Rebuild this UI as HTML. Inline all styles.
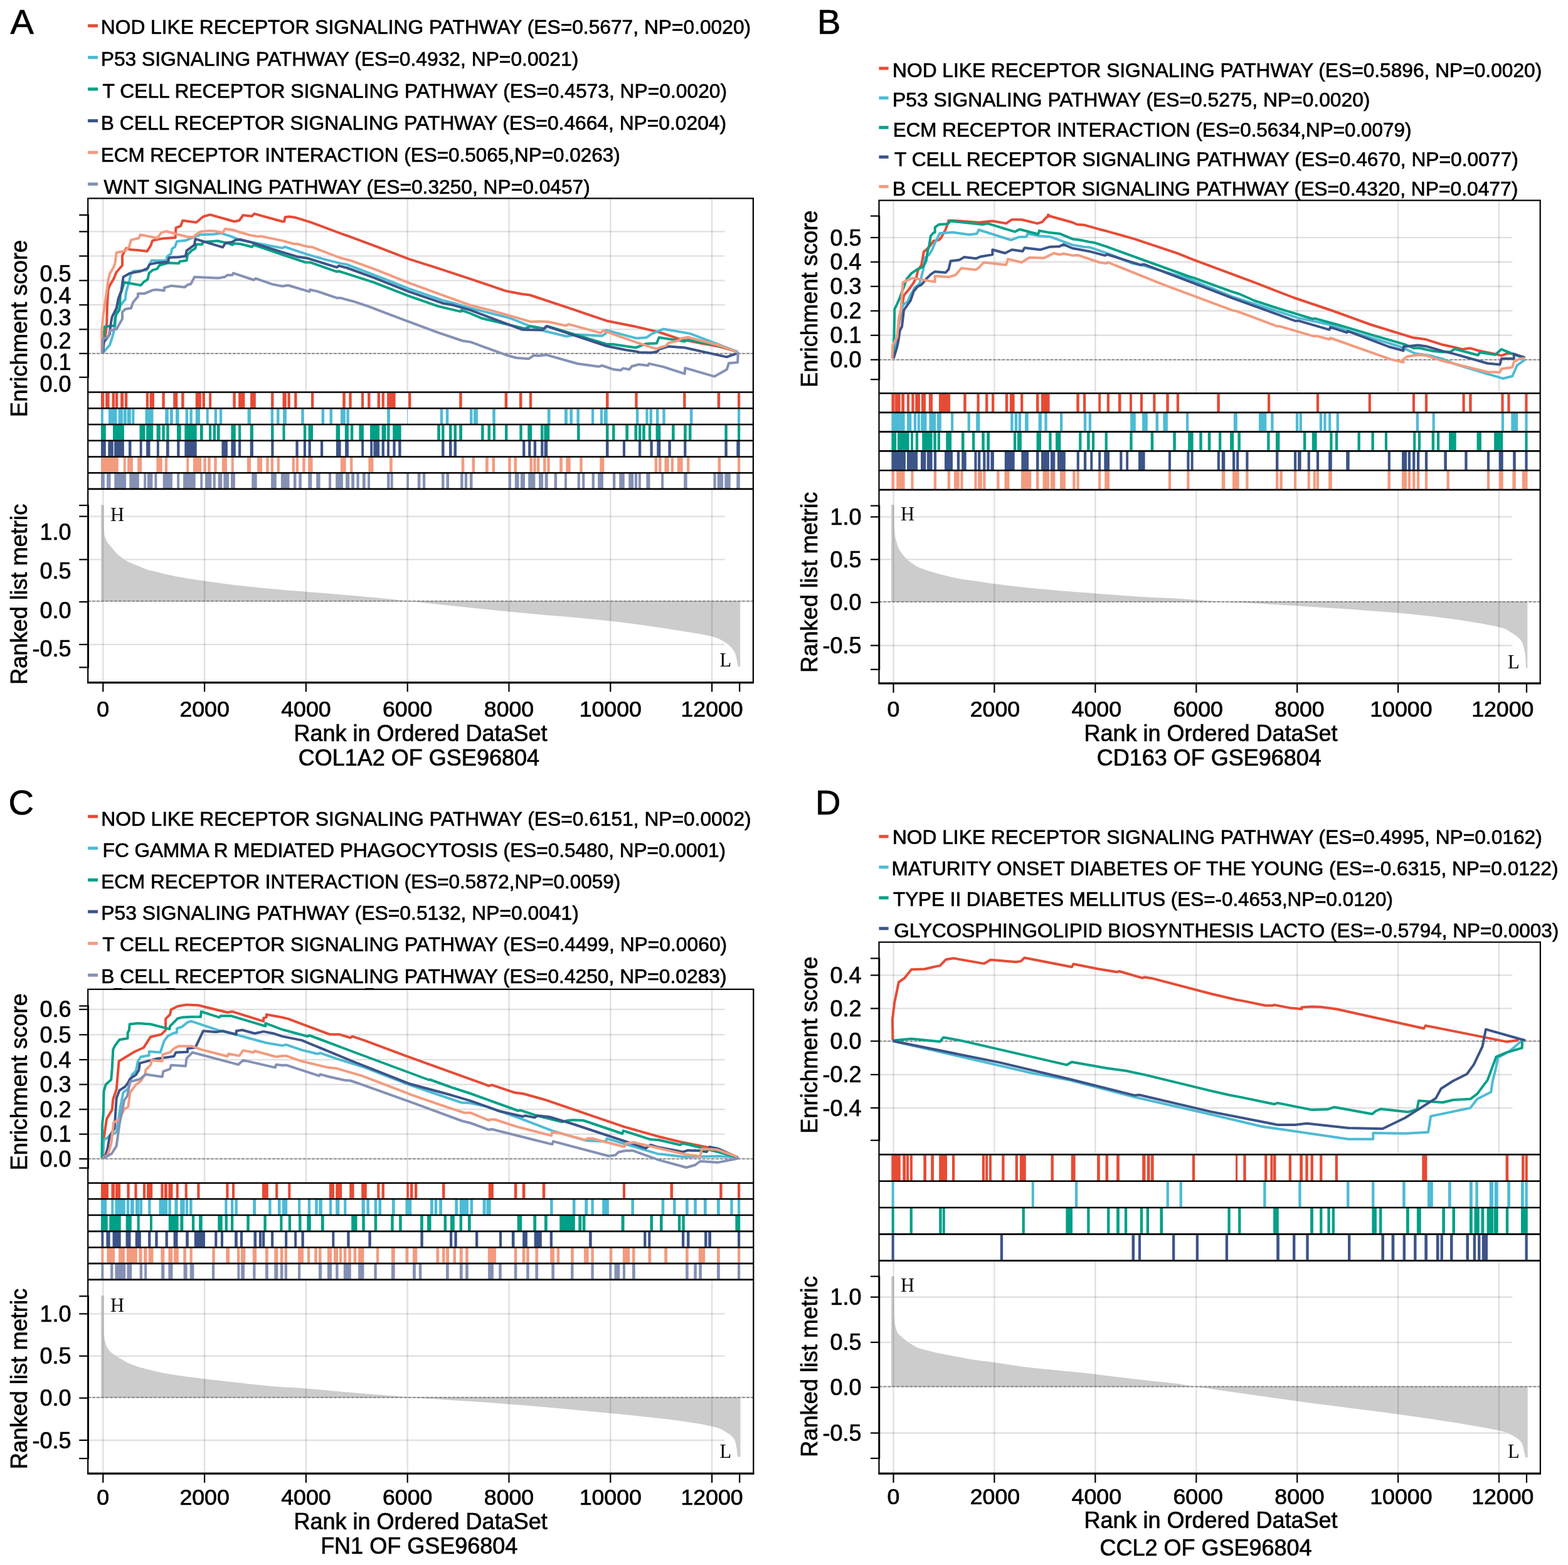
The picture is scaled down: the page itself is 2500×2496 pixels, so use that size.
<!DOCTYPE html>
<html><head><meta charset="utf-8"><title>GSEA</title>
<style>html,body{margin:0;padding:0;background:#fff;}svg{display:block;}</style>
</head><body>
<svg xmlns="http://www.w3.org/2000/svg" width="2500" height="2496" viewBox="0 0 2500 2496">
<rect width="2500" height="2496" fill="#fff"/>
<text x="16.6" y="53.8" font-size="56" text-anchor="start" font-family="'Liberation Sans', Arial, Helvetica, sans-serif" stroke="#000" stroke-width="0.7" >A</text>
<line x1="140" y1="41.1" x2="156" y2="41.1" stroke="#E64B35" stroke-width="5" />
<text x="0" y="0" font-size="31.6" font-family="'Liberation Sans', Arial, Helvetica, sans-serif" stroke="#000" stroke-width="0.7" transform="translate(160.79,54.00) scale(1.0047,1)">NOD LIKE RECEPTOR SIGNALING PATHWAY (ES=0.5677, NP=0.0020)</text>
<line x1="140" y1="91.6" x2="156" y2="91.6" stroke="#4DBBD5" stroke-width="5" />
<text x="0" y="0" font-size="31.6" font-family="'Liberation Sans', Arial, Helvetica, sans-serif" stroke="#000" stroke-width="0.7" transform="translate(160.69,105.00) scale(1.0065,1)">P53 SIGNALING PATHWAY (ES=0.4932, NP=0.0021)</text>
<line x1="140" y1="142.1" x2="156" y2="142.1" stroke="#00A087" stroke-width="5" />
<text x="0" y="0" font-size="31.6" font-family="'Liberation Sans', Arial, Helvetica, sans-serif" stroke="#000" stroke-width="0.7" transform="translate(163.59,156.00) scale(1.0057,1)">T CELL RECEPTOR SIGNALING PATHWAY (ES=0.4573, NP=0.0020)</text>
<line x1="140" y1="192.6" x2="156" y2="192.6" stroke="#3C5488" stroke-width="5" />
<text x="0" y="0" font-size="31.6" font-family="'Liberation Sans', Arial, Helvetica, sans-serif" stroke="#000" stroke-width="0.7" transform="translate(160.79,207.00) scale(1.0055,1)">B CELL RECEPTOR SIGNALING PATHWAY (ES=0.4664, NP=0.0204)</text>
<line x1="140" y1="243.1" x2="156" y2="243.1" stroke="#F39B7F" stroke-width="5" />
<text x="0" y="0" font-size="31.6" font-family="'Liberation Sans', Arial, Helvetica, sans-serif" stroke="#000" stroke-width="0.7" transform="translate(160.71,258.00) scale(0.9961,1)">ECM RECEPTOR INTERACTION (ES=0.5065,NP=0.0263)</text>
<line x1="140" y1="293.6" x2="156" y2="293.6" stroke="#8491B4" stroke-width="5" />
<text x="0" y="0" font-size="31.6" font-family="'Liberation Sans', Arial, Helvetica, sans-serif" stroke="#000" stroke-width="0.7" transform="translate(165.59,309.00) scale(1.0044,1)">WNT SIGNALING PATHWAY (ES=0.3250, NP=0.0457)</text>
<line x1="140.2" y1="369.4" x2="1155.6" y2="369.4" stroke="#000" stroke-width="2.4" stroke-opacity="0.12"/>
<line x1="140.2" y1="408.4" x2="1155.6" y2="408.4" stroke="#000" stroke-width="2.4" stroke-opacity="0.12"/>
<line x1="140.2" y1="447.4" x2="1155.6" y2="447.4" stroke="#000" stroke-width="2.4" stroke-opacity="0.12"/>
<line x1="140.2" y1="486.3" x2="1155.6" y2="486.3" stroke="#000" stroke-width="2.4" stroke-opacity="0.12"/>
<line x1="140.2" y1="525.3" x2="1155.6" y2="525.3" stroke="#000" stroke-width="2.4" stroke-opacity="0.12"/>
<line x1="140.2" y1="823.6" x2="1155.6" y2="823.6" stroke="#000" stroke-width="2.4" stroke-opacity="0.12"/>
<line x1="140.2" y1="892.4" x2="1155.6" y2="892.4" stroke="#000" stroke-width="2.4" stroke-opacity="0.12"/>
<line x1="140.2" y1="1027.9" x2="1155.6" y2="1027.9" stroke="#000" stroke-width="2.4" stroke-opacity="0.12"/>
<path d="M161.0,958.8 L161.0,805.5 L161.0,805.5 L165.6,805.5 L165.8,838.0 L165.9,839.6 L165.9,841.9 L166.0,844.6 L166.1,847.4 L166.2,850.0 L166.4,852.0 L166.6,853.5 L166.8,854.7 L167.0,855.6 L167.3,856.5 L167.6,857.3 L168.0,858.3 L168.4,859.3 L168.8,860.3 L169.2,861.3 L169.7,862.3 L170.3,863.4 L171.0,864.5 L171.8,865.7 L172.7,866.9 L173.8,868.1 L174.9,869.4 L176.0,870.8 L177.3,872.3 L178.7,874.0 L180.1,875.8 L181.7,877.7 L183.3,879.6 L184.9,881.5 L186.6,883.2 L188.4,884.8 L190.2,886.4 L192.1,887.8 L194.0,889.2 L195.8,890.5 L197.5,891.7 L198.9,892.7 L200.0,893.5 L201.0,894.1 L202.1,894.8 L203.4,895.5 L205.2,896.4 L207.6,897.5 L210.4,898.7 L213.5,899.9 L216.7,901.2 L219.7,902.3 L222.3,903.4 L224.4,904.3 L226.2,905.1 L227.9,905.9 L229.5,906.6 L231.2,907.3 L233.2,908.0 L235.5,908.7 L238.0,909.4 L240.7,910.0 L243.4,910.6 L246.1,911.3 L248.7,911.9 L251.1,912.5 L253.3,913.1 L255.5,913.7 L257.9,914.3 L260.7,915.0 L264.2,915.8 L268.5,916.7 L273.4,917.8 L278.8,918.9 L284.4,920.0 L289.9,921.0 L295.3,922.0 L300.3,922.8 L305.1,923.6 L309.8,924.3 L314.8,925.0 L320.2,925.8 L326.3,926.6 L332.9,927.5 L339.9,928.6 L347.3,929.6 L355.3,930.7 L363.8,931.8 L372.9,932.9 L383.1,934.1 L394.6,935.3 L406.5,936.5 L418.5,937.7 L429.8,938.8 L440.0,939.8 L448.4,940.6 L455.4,941.2 L461.8,941.7 L468.4,942.2 L475.9,942.7 L485.3,943.5 L497.0,944.5 L510.4,945.6 L524.9,946.8 L539.6,948.0 L553.6,949.2 L566.2,950.3 L577.7,951.3 L588.7,952.3 L599.1,953.3 L608.8,954.2 L617.5,955.1 L625.0,955.8 L629.5,956.3 L630.6,956.4 L630.7,956.5 L632.3,956.7 L637.7,957.3 L649.3,958.6 L668.3,960.6 L693.0,963.3 L721.5,966.3 L752.0,969.5 L782.4,972.6 L811.0,975.5 L838.7,978.1 L867.2,980.7 L895.8,983.1 L923.5,985.6 L949.7,988.1 L973.4,990.5 L994.7,993.0 L1014.3,995.5 L1032.3,998.0 L1048.8,1000.5 L1064.0,1002.8 L1078.0,1005.0 L1090.7,1006.9 L1101.9,1008.7 L1111.8,1010.4 L1120.6,1011.9 L1128.4,1013.6 L1135.5,1015.3 L1141.5,1017.1 L1146.3,1018.9 L1150.0,1020.7 L1153.2,1022.6 L1156.1,1024.5 L1159.0,1026.6 L1161.8,1028.8 L1164.3,1030.9 L1166.5,1033.2 L1168.4,1035.7 L1170.2,1038.3 L1171.7,1041.2 L1173.0,1044.7 L1174.1,1048.8 L1174.9,1053.1 L1175.6,1057.2 L1176.2,1060.7 L1176.6,1063.2 L1180.2,1063.2 L1180.2,958.8 Z" fill="#CCCCCC"/>
<line x1="164.3" y1="317.4" x2="164.3" y2="624.5" stroke="#000" stroke-width="2.4" stroke-opacity="0.12"/>
<line x1="164.3" y1="780.9" x2="164.3" y2="1087.3" stroke="#000" stroke-width="2.4" stroke-opacity="0.12"/>
<line x1="326.1" y1="317.4" x2="326.1" y2="624.5" stroke="#000" stroke-width="2.4" stroke-opacity="0.12"/>
<line x1="326.1" y1="780.9" x2="326.1" y2="1087.3" stroke="#000" stroke-width="2.4" stroke-opacity="0.12"/>
<line x1="487.9" y1="317.4" x2="487.9" y2="624.5" stroke="#000" stroke-width="2.4" stroke-opacity="0.12"/>
<line x1="487.9" y1="780.9" x2="487.9" y2="1087.3" stroke="#000" stroke-width="2.4" stroke-opacity="0.12"/>
<line x1="649.7" y1="317.4" x2="649.7" y2="624.5" stroke="#000" stroke-width="2.4" stroke-opacity="0.12"/>
<line x1="649.7" y1="780.9" x2="649.7" y2="1087.3" stroke="#000" stroke-width="2.4" stroke-opacity="0.12"/>
<line x1="811.5" y1="317.4" x2="811.5" y2="624.5" stroke="#000" stroke-width="2.4" stroke-opacity="0.12"/>
<line x1="811.5" y1="780.9" x2="811.5" y2="1087.3" stroke="#000" stroke-width="2.4" stroke-opacity="0.12"/>
<line x1="973.3" y1="317.4" x2="973.3" y2="624.5" stroke="#000" stroke-width="2.4" stroke-opacity="0.12"/>
<line x1="973.3" y1="780.9" x2="973.3" y2="1087.3" stroke="#000" stroke-width="2.4" stroke-opacity="0.12"/>
<line x1="1135.1" y1="317.4" x2="1135.1" y2="624.5" stroke="#000" stroke-width="2.4" stroke-opacity="0.12"/>
<line x1="1135.1" y1="780.9" x2="1135.1" y2="1087.3" stroke="#000" stroke-width="2.4" stroke-opacity="0.12"/>
<line x1="140.2" y1="563.8" x2="1200.9" y2="563.8" stroke="#000" stroke-width="2.4" stroke-opacity="0.12"/>
<line x1="140.2" y1="563.8" x2="1200.9" y2="563.8" stroke="#777" stroke-width="1.4" stroke-dasharray="4.5,2.5"/>
<line x1="140.2" y1="958.8" x2="1200.9" y2="958.8" stroke="#000" stroke-width="2.4" stroke-opacity="0.12"/>
<line x1="140.2" y1="958.8" x2="1200.9" y2="958.8" stroke="#777" stroke-width="1.4" stroke-dasharray="4.5,2.5"/>
<path d="M164,562.9 L165.5,547.4 L168.6,531.9 L170.2,516.3 L171,485.3 L172.5,462 L174.8,455.8 L181.1,444.9 L185.7,434 L195,423.2 L195,407.6 L201.2,396 L209,398.3 L219.9,399.1 L234.6,400.7 L240.1,392.1 L243.2,383.6 L258.7,380.5 L279.7,378.9 L280.4,363.4 L288.2,360.3 L291.3,351.7 L313,354.8 L323.9,345.5 L334.8,342.4 L373.6,353.3 L381.4,351.7 L387.6,343.2 L401.6,344.8 L405.4,340.9 L450,353.3 L453.1,353.3 L454.7,346.3 L460.9,345.5 L471.7,347.1 L496.6,354.8 L546.3,373.5 L555.6,376.6 L605.3,395.2 L651.9,413.1 L698.4,427.8 L750,444.9 L807.5,464.3 L832.3,469 L844.7,470.5 L905.3,490.7 L967.4,511.7 L1014,521 L1050,529.5 L1084.2,540.8 L1121.5,548.3 L1146.3,552.6 L1176.1,561.3" fill="none" stroke="#E64B35" stroke-width="4.0" stroke-linejoin="round"/>
<path d="M164,562.9 L174.8,550.5 L178,541.2 L181.1,530.3 L183.4,519.4 L184.9,500.8 L193.5,485.3 L199.7,477.5 L201.2,465.1 L205.9,449.6 L208.2,438.7 L212.1,432.5 L233.9,430.9 L237,424.7 L241.6,415.4 L264.9,415.4 L266.5,409.2 L272.7,404.5 L274.2,396.8 L278.9,393.7 L282,385.1 L296,383.6 L305.3,379.7 L319.3,374.3 L342.5,373.5 L351.9,371.9 L367.4,376.6 L382.9,382.8 L450,395.6 L453.9,393.7 L488.8,405.3 L518.3,413.9 L543.2,420.1 L552.5,421.6 L605.3,441.8 L651.9,460.4 L706.2,479.1 L721.7,483 L750,491.5 L812.1,507 L843.2,519.4 L871.1,528.8 L903.7,536.5 L920.8,533.4 L959.6,535.7 L965.8,531.9 L965.8,526.4 L1015,539.6 L1030.8,538.3 L1039.5,532.1 L1058.1,524.7 L1100.4,532.1 L1146.3,549.5 L1176.1,561.3" fill="none" stroke="#4DBBD5" stroke-width="4.0" stroke-linejoin="round"/>
<path d="M164,562.9 L165.5,531.9 L167.1,521 L182.6,519.4 L183.4,508.6 L185.7,500.8 L190.4,494.6 L191.9,469.8 L195,460.4 L198.1,450.3 L224.5,455 L229.2,449.6 L235.4,445.7 L237.7,435.6 L243.2,430.9 L250.9,428.6 L254,423.2 L268,419.3 L285.1,420.1 L286.6,417 L297.5,415.4 L299.1,406.1 L305.3,399.9 L311.5,396 L313,389.8 L322.4,389.8 L323.1,385.9 L347.2,384.3 L364.3,388.2 L370.5,390.6 L373.6,388.2 L382.9,389 L401.6,393.7 L404.7,390.6 L450,406.1 L487.3,418.5 L495,418.5 L537,433.3 L540.1,432.5 L552.5,436.4 L596,450.3 L651.9,472.1 L698.4,488.4 L734.2,496.9 L735.7,494.6 L750,500 L768.6,507.8 L785.7,511.7 L837,524.1 L846.3,520.2 L868,524.1 L872.7,520.2 L967.4,548.9 L976.7,548.9 L1013.7,554.4 L1029.6,548.3 L1047,547.6 L1050.7,538.3 L1091.7,544.5 L1096.6,542 L1146.3,551.4 L1176.1,561.3" fill="none" stroke="#00A087" stroke-width="4.0" stroke-linejoin="round"/>
<path d="M164,562.9 L165.5,545.8 L174.8,533.4 L175.6,524.1 L177.2,513.2 L178.7,505.5 L185.7,491.5 L188.8,476 L193.5,463.5 L196.6,441.8 L207.5,435.6 L224.5,432.5 L235.4,427.8 L238.5,421.6 L249.4,419.3 L268,417.7 L269.6,410.7 L285.1,410 L296,408.4 L297.5,399.9 L309.9,390.6 L311.5,381.2 L355,394.4 L359.6,387.5 L370.5,385.9 L375.2,382.8 L382.9,382 L398.4,385.9 L450,402.2 L473.3,409.2 L491.9,412.3 L537,426.3 L540.1,423.9 L552.5,427 L597.5,443.4 L651.9,465.1 L706.2,483.7 L723.3,486.8 L750,494.6 L832.3,525.7 L864.9,526.4 L871.1,520.2 L967.4,552 L998.4,558.3 L1014,560.6 L1019.6,561.9 L1038.3,562.5 L1048.2,560.7 L1050.7,557 L1065.6,552.6 L1091.7,554.5 L1158.8,569.4 L1176.1,563.2" fill="none" stroke="#3C5488" stroke-width="4.0" stroke-linejoin="round"/>
<path d="M162.4,562.9 L162.4,525.7 L164.8,500.8 L167.1,485.3 L169.4,469.8 L172.5,446.5 L174.8,437.1 L181.1,426.3 L183.4,420.1 L185.7,403 L199.7,399.9 L205.9,393.7 L209,382.8 L221.4,379.7 L223.8,374.3 L250.9,379.7 L257.1,371.1 L264.9,368.8 L282,373.5 L300.6,378.1 L308.4,378.1 L311.5,375 L319.3,369.6 L334.8,368 L344.1,368.8 L355,371.1 L358.9,364.9 L370.5,366.5 L382.9,370.4 L398.4,375 L412.4,377.4 L415.5,376.6 L450,383.9 L468.6,389 L473.3,389 L491.9,393.7 L496.6,393.7 L543.2,411.5 L558.7,415.4 L597.5,429.4 L651.9,451.1 L698.4,468.2 L750,486.8 L784.2,495.4 L816.8,504.7 L846.3,513.2 L858.7,512.5 L874.2,513.2 L902.2,519.4 L906.8,517.1 L958.1,531.1 L961.2,527.2 L1014,545.8 L1045.7,556.3 L1061.9,551.4 L1065.6,547 L1081.7,543.3 L1086.7,539.6 L1096.6,537.7 L1146.3,550.7 L1176.1,561.9" fill="none" stroke="#F39B7F" stroke-width="4.0" stroke-linejoin="round"/>
<path d="M163.2,562.9 L164,541.2 L173.3,536.5 L174.8,527.2 L185.7,524.9 L195,508.6 L195,497.7 L199.7,493 L209,491.5 L212.1,482.2 L219.9,472.9 L219.9,468.2 L230.7,468.2 L243.2,462.8 L249.4,462 L261.8,463.5 L261.8,458.9 L272.7,455.8 L294.4,458.1 L299.1,454.2 L304.5,452.7 L309.9,441.8 L348.8,443.4 L358.1,441.8 L362.7,438.7 L370.5,438.7 L372,435.6 L404.7,446.5 L407.8,444.1 L434.2,453.4 L450,456.5 L459.3,455 L493.5,465.1 L494.3,462 L507.5,465.1 L537,475.2 L543.2,475.2 L554,478.3 L563.4,480.6 L586.6,488.4 L651.9,513.2 L698.4,530.3 L737.3,543.5 L750,545.4 L809,566.8 L823,570.7 L843.2,572.2 L850.9,566.8 L858.7,567.6 L871.1,566 L874.2,566.8 L920.8,580 L955,584.7 L960,583 L978.6,589.3 L989.8,590.5 L993.5,587.4 L1003.5,589.3 L1007.2,584.3 L1018.4,581.2 L1033.3,583 L1034.5,579.9 L1056.9,584.9 L1091.7,596.1 L1092.3,586.8 L1138.9,600.4 L1158.8,589.3 L1161.9,579.3 L1176.1,578.1 L1176.8,561.3" fill="none" stroke="#8491B4" stroke-width="4.0" stroke-linejoin="round"/>
<path d="M161,626.3H166.2V650.5H161ZM168.1,626.3H174.6V650.5H168.1ZM178.5,626.3H183V650.5H178.5ZM183.9,626.3H188.2V650.5H183.9ZM192.1,626.3H197.2V650.5H192.1ZM198.9,626.3H203.3V650.5H198.9ZM232.8,626.3H237V650.5H232.8ZM238.6,626.3H246V650.5H238.6ZM258.4,626.3H262.8V650.5H258.4ZM276.2,626.3H283.3V650.5H276.2ZM289.1,626.3H293.6V650.5H289.1ZM311.7,626.3H320.8V650.5H311.7ZM322.5,626.3H327V650.5H322.5ZM333.1,626.3H337.2V650.5H333.1ZM371.3,626.3H375.8V650.5H371.3ZM380.1,626.3H390.4V650.5H380.1ZM399.1,626.3H407.8V650.5H399.1ZM432.1,626.3H436.5V650.5H432.1ZM450.5,626.3H456.7V650.5H450.5ZM458.5,626.3H462.8V650.5H458.5ZM469.2,626.3H473.5V650.5H469.2ZM496,626.3H500.3V650.5H496ZM546.2,626.3H550.8V650.5H546.2ZM556.3,626.3H560.7V650.5H556.3ZM576,626.3H580.1V650.5H576ZM586.1,626.3H590.5V650.5H586.1ZM601.6,626.3H606V650.5H601.6ZM608.6,626.3H612.9V650.5H608.6ZM617.1,626.3H630.6V650.5H617.1ZM651,626.3H655.4V650.5H651ZM732.2,626.3H736.7V650.5H732.2ZM804.6,626.3H809.2V650.5H804.6ZM827.9,626.3H832.5V650.5H827.9ZM843.8,626.3H848.2V650.5H843.8ZM966,626.3H970.5V650.5H966ZM1012.3,626.3H1016.7V650.5H1012.3ZM1089.2,626.3H1093.5V650.5H1089.2ZM1143.7,626.3H1148.2V650.5H1143.7ZM1176,626.3H1180.2V650.5H1176Z" fill="#E64B35"/>
<path d="M161,652.1H164.9V676.2H161ZM173,652.1H186.5V676.2H173ZM188.6,652.1H195.9V676.2H188.6ZM196.8,652.1H201.8V676.2H196.8ZM202.8,652.1H208.9V676.2H202.8ZM210.2,652.1H214.4V676.2H210.2ZM231.5,652.1H244.5V676.2H231.5ZM263.2,652.1H268.8V676.2H263.2ZM271,652.1H275.8V676.2H271ZM280,652.1H285.6V676.2H280ZM295.6,652.1H300.1V676.2H295.6ZM302.4,652.1H306.8V676.2H302.4ZM311.7,652.1H318.9V676.2H311.7ZM328.8,652.1H332.7V676.2H328.8ZM341.8,652.1H346V676.2H341.8ZM349.9,652.1H354.2V676.2H349.9ZM394.6,652.1H400V676.2H394.6ZM431.7,652.1H436V676.2H431.7ZM441.1,652.1H445.5V676.2H441.1ZM451.1,652.1H456.9V676.2H451.1ZM480.2,652.1H484.8V676.2H480.2ZM512.6,652.1H517.1V676.2H512.6ZM525.5,652.1H530V676.2H525.5ZM543,652.1H550.8V676.2H543ZM552.4,652.1H556.8V676.2H552.4ZM617.1,652.1H621.9V676.2H617.1ZM649.1,652.1H650V676.2H649.1ZM701.8,652.1H706.3V676.2H701.8ZM710.8,652.1H715.3V676.2H710.8ZM749,652.1H753.5V676.2H749ZM755.1,652.1H761.9V676.2H755.1ZM785.2,652.1H789.8V676.2H785.2ZM872.8,652.1H877.5V676.2H872.8ZM900,652.1H904.9V676.2H900ZM908.4,652.1H912.9V676.2H908.4ZM919.4,652.1H923.9V676.2H919.4ZM943,652.1H947.2V676.2H943ZM956.9,652.1H961.1V676.2H956.9ZM962.8,652.1H968.8V676.2H962.8ZM1013.9,652.1H1018.4V676.2H1013.9ZM1029.4,652.1H1033.5V676.2H1029.4ZM1035.6,652.1H1040V676.2H1035.6ZM1046,652.1H1050.4V676.2H1046ZM1056.3,652.1H1060.7V676.2H1056.3ZM1099.9,652.1H1104.5V676.2H1099.9ZM1176,652.1H1180.2V676.2H1176Z" fill="#4DBBD5"/>
<path d="M161,677.8H168.8V702H161ZM180,677.8H197.9V702H180ZM222.5,677.8H231.5V702H222.5ZM233.1,677.8H244.2V702H233.1ZM249.6,677.8H255.8V702H249.6ZM258.4,677.8H262.8V702H258.4ZM265.2,677.8H269.7V702H265.2ZM282,677.8H288.7V702H282ZM294.3,677.8H313.7V702H294.3ZM318.9,677.8H323.7V702H318.9ZM333.1,677.8H337.2V702H333.1ZM339.6,677.8H344.1V702H339.6ZM346,677.8H350.6V702H346ZM368.4,677.8H375.8V702H368.4ZM380.1,677.8H384.2V702H380.1ZM398.7,677.8H403.9V702H398.7ZM432.1,677.8H436.5V702H432.1ZM450.5,677.8H454.6V702H450.5ZM483.9,677.8H488.3V702H483.9ZM491.6,677.8H499V702H491.6ZM535.6,677.8H542.1V702H535.6ZM549.8,677.8H555.9V702H549.8ZM558.9,677.8H563.3V702H558.9ZM572.4,677.8H579.9V702H572.4ZM590,677.8H605.1V702H590ZM608.6,677.8H615.5V702H608.6ZM617.1,677.8H621.5V702H617.1ZM626.2,677.8H639.6V702H626.2ZM697.2,677.8H701.8V702H697.2ZM704.1,677.8H708.5V702H704.1ZM716,677.8H720.5V702H716ZM723.5,677.8H728V702H723.5ZM732.2,677.8H737V702H732.2ZM767.1,677.8H771.6V702H767.1ZM777.5,677.8H782V702H777.5ZM785.9,677.8H790V702H785.9ZM805,677.8H809.4V702H805ZM828.3,677.8H832.7V702H828.3ZM841.3,677.8H848.2V702H841.3ZM862,677.8H866.4V702H862ZM867.4,677.8H876.2V702H867.4ZM920.1,677.8H924.6V702H920.1ZM966,677.8H970.5V702H966ZM976.1,677.8H980.5V702H976.1ZM997.3,677.8H1002V702H997.3ZM1011.5,677.8H1016.2V702H1011.5ZM1018,677.8H1022.3V702H1018ZM1024.2,677.8H1028.8V702H1024.2ZM1033.9,677.8H1038.2V702H1033.9ZM1045.6,677.8H1053.3V702H1045.6ZM1071.1,677.8H1075.7V702H1071.1ZM1090.2,677.8H1094.7V702H1090.2ZM1098,677.8H1102.5V702H1098ZM1155.4,677.8H1159.8V702H1155.4ZM1176,677.8H1180.2V702H1176Z" fill="#00A087"/>
<path d="M161,703.6H168.8V727.7H161ZM172.3,703.6H180.8V727.7H172.3ZM182.1,703.6H197.9V727.7H182.1ZM205,703.6H209.5V727.7H205ZM222.7,703.6H226.6V727.7H222.7ZM233.1,703.6H239.5V727.7H233.1ZM249.9,703.6H253.8V727.7H249.9ZM264.9,703.6H269.7V727.7H264.9ZM282.2,703.6H286.5V727.7H282.2ZM294.3,703.6H313.7V727.7H294.3ZM353.4,703.6H362.9V727.7H353.4ZM368.4,703.6H375.8V727.7H368.4ZM380.1,703.6H384.2V727.7H380.1ZM398.7,703.6H403.9V727.7H398.7ZM432.3,703.6H436.5V727.7H432.3ZM471.4,703.6H475.7V727.7H471.4ZM483.9,703.6H488V727.7H483.9ZM491.6,703.6H495.8V727.7H491.6ZM511,703.6H515.2V727.7H511ZM535.9,703.6H543.6V727.7H535.9ZM550.1,703.6H555.9V727.7H550.1ZM576.2,703.6H580.1V727.7H576.2ZM590.2,703.6H594.1V727.7H590.2ZM595.4,703.6H605.1V727.7H595.4ZM608.6,703.6H612.9V727.7H608.6ZM617.1,703.6H621V727.7H617.1ZM626.4,703.6H630.6V727.7H626.4ZM635.2,703.6H639.6V727.7H635.2ZM704.1,703.6H708.5V727.7H704.1ZM716,703.6H720.5V727.7H716ZM723.5,703.6H728V727.7H723.5ZM833.1,703.6H837.4V727.7H833.1ZM842.2,703.6H846.4V727.7H842.2ZM850.8,703.6H855.1V727.7H850.8ZM862.2,703.6H866.4V727.7H862.2ZM867.7,703.6H873.2V727.7H867.7ZM966,703.6H970.5V727.7H966ZM992.9,703.6H997V727.7H992.9ZM1018,703.6H1022.3V727.7H1018ZM1036.5,703.6H1040.8V727.7H1036.5ZM1047.3,703.6H1053.3V727.7H1047.3ZM1065.4,703.6H1069.8V727.7H1065.4ZM1090.2,703.6H1094.4V727.7H1090.2ZM1155.4,703.6H1159.8V727.7H1155.4ZM1174.3,703.6H1179.8V727.7H1174.3Z" fill="#3C5488"/>
<path d="M161,729.3H188.8V753.4H161ZM196.8,729.3H200.7V753.4H196.8ZM203.1,729.3H211.9V753.4H203.1ZM219.2,729.3H226.1V753.4H219.2ZM249.4,729.3H258.7V753.4H249.4ZM262.8,729.3H267.1V753.4H262.8ZM297.3,729.3H301.1V753.4H297.3ZM307.9,729.3H321.1V753.4H307.9ZM324.4,729.3H328.8V753.4H324.4ZM331.2,729.3H335.7V753.4H331.2ZM341.3,729.3H345.7V753.4H341.3ZM353.8,729.3H362V753.4H353.8ZM368.7,729.3H372.8V753.4H368.7ZM393.9,729.3H400V753.4H393.9ZM410.1,729.3H418.1V753.4H410.1ZM424.3,729.3H428.7V753.4H424.3ZM431.7,729.3H436V753.4H431.7ZM441.7,729.3H445.9V753.4H441.7ZM465.7,729.3H469.9V753.4H465.7ZM471.8,729.3H476.1V753.4H471.8ZM482.2,729.3H486.7V753.4H482.2ZM491.2,729.3H498.6V753.4H491.2ZM543,729.3H551.7V753.4H543ZM558.1,729.3H562.4V753.4H558.1ZM587.4,729.3H595.4V753.4H587.4ZM621,729.3H625.8V753.4H621ZM735.7,729.3H740.3V753.4H735.7ZM752.5,729.3H757.1V753.4H752.5ZM774,729.3H778.8V753.4H774ZM784.6,729.3H789.1V753.4H784.6ZM810.2,729.3H814.6V753.4H810.2ZM819.5,729.3H824V753.4H819.5ZM844.4,729.3H849V753.4H844.4ZM850.3,729.3H854.7V753.4H850.3ZM856,729.3H860.3V753.4H856ZM866.1,729.3H870.6V753.4H866.1ZM872.3,729.3H876.7V753.4H872.3ZM892.2,729.3H896.9V753.4H892.2ZM902.3,729.3H909.7V753.4H902.3ZM924.3,729.3H928.7V753.4H924.3ZM956.3,729.3H963.4V753.4H956.3ZM1043.6,729.3H1048.2V753.4H1043.6ZM1050.1,729.3H1054.6V753.4H1050.1ZM1059.4,729.3H1066.7V753.4H1059.4ZM1069.8,729.3H1074V753.4H1069.8ZM1079.9,729.3H1088.7V753.4H1079.9ZM1095.1,729.3H1099.5V753.4H1095.1ZM1144.5,729.3H1149.1V753.4H1144.5ZM1176,729.3H1180.2V753.4H1176Z" fill="#F39B7F"/>
<path d="M161,755H166.8V779.1H161ZM170.1,755H176.5V779.1H170.1ZM182.3,755H201.1V779.1H182.3ZM206.3,755H221.8V779.1H206.3ZM229.2,755H233.1V779.1H229.2ZM234.8,755H243.4V779.1H234.8ZM246.4,755H250.3V779.1H246.4ZM259.7,755H274.9V779.1H259.7ZM282.2,755H286.1V779.1H282.2ZM292.1,755H311.7V779.1H292.1ZM319.3,755H323.1V779.1H319.3ZM327,755H337.4V779.1H327ZM339.6,755H343.8V779.1H339.6ZM347.7,755H354.2V779.1H347.7ZM356.4,755H365.1V779.1H356.4ZM368,755H374.9V779.1H368ZM401.3,755H409.7V779.1H401.3ZM432.1,755H440.8V779.1H432.1ZM447.9,755H461.5V779.1H447.9ZM467.9,755H472.5V779.1H467.9ZM476.3,755H480.9V779.1H476.3ZM491.2,755H497.3V779.1H491.2ZM504.2,755H510.6V779.1H504.2ZM524,755H528.1V779.1H524ZM535.2,755H546.9V779.1H535.2ZM551.1,755H557.2V779.1H551.1ZM560.2,755H565V779.1H560.2ZM568.5,755H572.7V779.1H568.5ZM577.9,755H582.7V779.1H577.9ZM586.1,755H590V779.1H586.1ZM617.1,755H621.5V779.1H617.1ZM622.8,755H626.7V779.1H622.8ZM648.2,755H651.9V779.1H648.2ZM665.8,755H670.4V779.1H665.8ZM673.9,755H678.2V779.1H673.9ZM704.1,755H708.5V779.1H704.1ZM711.5,755H716V779.1H711.5ZM734.1,755H738.6V779.1H734.1ZM740.8,755H745.1V779.1H740.8ZM749,755H753.5V779.1H749ZM810.5,755H815V779.1H810.5ZM820.8,755H827.5V779.1H820.8ZM829.9,755H837V779.1H829.9ZM842.2,755H853.4V779.1H842.2ZM859,755H866.1V779.1H859ZM868.7,755H873.6V779.1H868.7ZM883.6,755H888.1V779.1H883.6ZM900,755H903.9V779.1H900ZM920.7,755H924.8V779.1H920.7ZM928.2,755H932.3V779.1H928.2ZM943.7,755H947.9V779.1H943.7ZM953.1,755H961.9V779.1H953.1ZM977,755H981.3V779.1H977ZM987.3,755H995.8V779.1H987.3ZM1002.2,755H1010.2V779.1H1002.2ZM1011.9,755H1016.2V779.1H1011.9ZM1018,755H1021.9V779.1H1018ZM1030.4,755H1036.5V779.1H1030.4ZM1054.2,755H1058.1V779.1H1054.2ZM1090.2,755H1095.7V779.1H1090.2ZM1137.4,755H1141.7V779.1H1137.4ZM1143.7,755H1153.1V779.1H1143.7ZM1155.4,755H1164.7V779.1H1155.4ZM1174.3,755H1179.8V779.1H1174.3Z" fill="#8491B4"/>
<line x1="140.2" y1="625.5" x2="1200.9" y2="625.5" stroke="#000" stroke-width="2.6" />
<line x1="140.2" y1="651.3" x2="1200.9" y2="651.3" stroke="#000" stroke-width="2.6" />
<line x1="140.2" y1="677" x2="1200.9" y2="677" stroke="#000" stroke-width="2.6" />
<line x1="140.2" y1="702.8" x2="1200.9" y2="702.8" stroke="#000" stroke-width="2.6" />
<line x1="140.2" y1="728.5" x2="1200.9" y2="728.5" stroke="#000" stroke-width="2.6" />
<line x1="140.2" y1="754.2" x2="1200.9" y2="754.2" stroke="#000" stroke-width="2.6" />
<line x1="140.2" y1="779.9" x2="1200.9" y2="779.9" stroke="#000" stroke-width="2.6" />
<line x1="139.1" y1="1088.7" x2="1202" y2="1088.7" stroke="#000" stroke-width="3.0" />
<rect x="140.2" y="316.4" width="1060.7" height="771.9" fill="none" stroke="#000" stroke-width="2.2"/>
<line x1="140.6" y1="341.8" x2="140.6" y2="602.8" stroke="#000" stroke-width="2.6" />
<line x1="126.2" y1="342.9" x2="140.6" y2="342.9" stroke="#000" stroke-width="2.2" />
<line x1="126.2" y1="369.4" x2="140.6" y2="369.4" stroke="#000" stroke-width="2.2" />
<line x1="126.2" y1="408.4" x2="140.6" y2="408.4" stroke="#000" stroke-width="2.2" />
<line x1="126.2" y1="447.4" x2="140.6" y2="447.4" stroke="#000" stroke-width="2.2" />
<line x1="126.2" y1="486.3" x2="140.6" y2="486.3" stroke="#000" stroke-width="2.2" />
<line x1="126.2" y1="525.3" x2="140.6" y2="525.3" stroke="#000" stroke-width="2.2" />
<line x1="126.2" y1="563.8" x2="140.6" y2="563.8" stroke="#000" stroke-width="2.2" />
<line x1="126.2" y1="601.7" x2="140.6" y2="601.7" stroke="#000" stroke-width="2.2" />
<text x="113.6" y="448.5" font-size="36" text-anchor="end" font-family="'Liberation Sans', Arial, Helvetica, sans-serif" stroke="#000" stroke-width="0.7" >0.5</text>
<text x="113.6" y="484.2" font-size="36" text-anchor="end" font-family="'Liberation Sans', Arial, Helvetica, sans-serif" stroke="#000" stroke-width="0.7" >0.4</text>
<text x="113.6" y="519" font-size="36" text-anchor="end" font-family="'Liberation Sans', Arial, Helvetica, sans-serif" stroke="#000" stroke-width="0.7" >0.3</text>
<text x="113.6" y="555.5" font-size="36" text-anchor="end" font-family="'Liberation Sans', Arial, Helvetica, sans-serif" stroke="#000" stroke-width="0.7" >0.2</text>
<text x="113.6" y="589.5" font-size="36" text-anchor="end" font-family="'Liberation Sans', Arial, Helvetica, sans-serif" stroke="#000" stroke-width="0.7" >0.1</text>
<text x="113.6" y="625.1" font-size="36" text-anchor="end" font-family="'Liberation Sans', Arial, Helvetica, sans-serif" stroke="#000" stroke-width="0.7" >0.0</text>
<line x1="140.6" y1="804.9" x2="140.6" y2="1065.5" stroke="#000" stroke-width="2.6" />
<line x1="126.2" y1="806" x2="140.6" y2="806" stroke="#000" stroke-width="2.2" />
<line x1="126.2" y1="823.6" x2="140.6" y2="823.6" stroke="#000" stroke-width="2.2" />
<line x1="126.2" y1="892.4" x2="140.6" y2="892.4" stroke="#000" stroke-width="2.2" />
<line x1="126.2" y1="959.9" x2="140.6" y2="959.9" stroke="#000" stroke-width="2.2" />
<line x1="126.2" y1="1027.9" x2="140.6" y2="1027.9" stroke="#000" stroke-width="2.2" />
<line x1="126.2" y1="1064.4" x2="140.6" y2="1064.4" stroke="#000" stroke-width="2.2" />
<text x="113.6" y="861.3" font-size="36" text-anchor="end" font-family="'Liberation Sans', Arial, Helvetica, sans-serif" stroke="#000" stroke-width="0.7" >1.0</text>
<text x="113.6" y="923" font-size="36" text-anchor="end" font-family="'Liberation Sans', Arial, Helvetica, sans-serif" stroke="#000" stroke-width="0.7" >0.5</text>
<text x="113.6" y="985.6" font-size="36" text-anchor="end" font-family="'Liberation Sans', Arial, Helvetica, sans-serif" stroke="#000" stroke-width="0.7" >0.0</text>
<text x="113.6" y="1047" font-size="36" text-anchor="end" font-family="'Liberation Sans', Arial, Helvetica, sans-serif" stroke="#000" stroke-width="0.7" >-0.5</text>
<text x="176" y="831" font-size="30.5" text-anchor="start" font-family="'Liberation Serif', 'Times New Roman', serif"  >H</text>
<text x="1147.5" y="1063.2" font-size="30.5" text-anchor="start" font-family="'Liberation Serif', 'Times New Roman', serif"  >L</text>
<line x1="164.3" y1="1088.3" x2="164.3" y2="1103.3" stroke="#000" stroke-width="2.2" />
<line x1="326.1" y1="1088.3" x2="326.1" y2="1103.3" stroke="#000" stroke-width="2.2" />
<line x1="487.9" y1="1088.3" x2="487.9" y2="1103.3" stroke="#000" stroke-width="2.2" />
<line x1="649.7" y1="1088.3" x2="649.7" y2="1103.3" stroke="#000" stroke-width="2.2" />
<line x1="811.5" y1="1088.3" x2="811.5" y2="1103.3" stroke="#000" stroke-width="2.2" />
<line x1="973.3" y1="1088.3" x2="973.3" y2="1103.3" stroke="#000" stroke-width="2.2" />
<line x1="1135.1" y1="1088.3" x2="1135.1" y2="1103.3" stroke="#000" stroke-width="2.2" />
<line x1="1179.2" y1="1088.3" x2="1179.2" y2="1103.3" stroke="#000" stroke-width="2.2" />
<text x="164.3" y="1142.5" font-size="35.7" text-anchor="middle" font-family="'Liberation Sans', Arial, Helvetica, sans-serif" stroke="#000" stroke-width="0.7" >0</text>
<text x="326.1" y="1142.5" font-size="35.7" text-anchor="middle" font-family="'Liberation Sans', Arial, Helvetica, sans-serif" stroke="#000" stroke-width="0.7" >2000</text>
<text x="487.9" y="1142.5" font-size="35.7" text-anchor="middle" font-family="'Liberation Sans', Arial, Helvetica, sans-serif" stroke="#000" stroke-width="0.7" >4000</text>
<text x="649.7" y="1142.5" font-size="35.7" text-anchor="middle" font-family="'Liberation Sans', Arial, Helvetica, sans-serif" stroke="#000" stroke-width="0.7" >6000</text>
<text x="811.5" y="1142.5" font-size="35.7" text-anchor="middle" font-family="'Liberation Sans', Arial, Helvetica, sans-serif" stroke="#000" stroke-width="0.7" >8000</text>
<text x="973.3" y="1142.5" font-size="35.7" text-anchor="middle" font-family="'Liberation Sans', Arial, Helvetica, sans-serif" stroke="#000" stroke-width="0.7" >10000</text>
<text x="1135.1" y="1142.5" font-size="35.7" text-anchor="middle" font-family="'Liberation Sans', Arial, Helvetica, sans-serif" stroke="#000" stroke-width="0.7" >12000</text>
<text x="670.5" y="1181.7" font-size="36" text-anchor="middle" font-family="'Liberation Sans', Arial, Helvetica, sans-serif" stroke="#000" stroke-width="0.7" >Rank in Ordered DataSet</text>
<text x="667.9" y="1220.8" font-size="36" text-anchor="middle" font-family="'Liberation Sans', Arial, Helvetica, sans-serif" stroke="#000" stroke-width="0.7" >COL1A2 OF GSE96804</text>
<text x="0" y="0" font-size="36.3" text-anchor="middle" font-family="'Liberation Sans', Arial, Helvetica, sans-serif" stroke="#000" stroke-width="0.7" transform="translate(42.8,524) rotate(-90)">Enrichment score</text>
<text x="0" y="0" font-size="36.3" text-anchor="middle" font-family="'Liberation Sans', Arial, Helvetica, sans-serif" stroke="#000" stroke-width="0.7" transform="translate(43.4,947.9) rotate(-90)">Ranked list metric</text>
<text x="1303.1" y="53.8" font-size="56" text-anchor="start" font-family="'Liberation Sans', Arial, Helvetica, sans-serif" stroke="#000" stroke-width="0.7" >B</text>
<line x1="1401.4" y1="109" x2="1416.6" y2="109" stroke="#E64B35" stroke-width="5" />
<text x="0" y="0" font-size="31.6" font-family="'Liberation Sans', Arial, Helvetica, sans-serif" stroke="#000" stroke-width="0.7" transform="translate(1423.09,122.60) scale(1.0034,1)">NOD LIKE RECEPTOR SIGNALING PATHWAY (ES=0.5896, NP=0.0020)</text>
<line x1="1401.4" y1="156.2" x2="1416.6" y2="156.2" stroke="#4DBBD5" stroke-width="5" />
<text x="0" y="0" font-size="31.6" font-family="'Liberation Sans', Arial, Helvetica, sans-serif" stroke="#000" stroke-width="0.7" transform="translate(1423.09,170.05) scale(1.0060,1)">P53 SIGNALING PATHWAY (ES=0.5275, NP=0.0020)</text>
<line x1="1401.4" y1="203.3" x2="1416.6" y2="203.3" stroke="#00A087" stroke-width="5" />
<text x="0" y="0" font-size="31.6" font-family="'Liberation Sans', Arial, Helvetica, sans-serif" stroke="#000" stroke-width="0.7" transform="translate(1423.71,217.50) scale(0.9941,1)">ECM RECEPTOR INTERACTION (ES=0.5634,NP=0.0079)</text>
<line x1="1401.4" y1="250.4" x2="1416.6" y2="250.4" stroke="#3C5488" stroke-width="5" />
<text x="0" y="0" font-size="31.6" font-family="'Liberation Sans', Arial, Helvetica, sans-serif" stroke="#000" stroke-width="0.7" transform="translate(1425.99,264.95) scale(1.0053,1)">T CELL RECEPTOR SIGNALING PATHWAY (ES=0.4670, NP=0.0077)</text>
<line x1="1401.4" y1="297.6" x2="1416.6" y2="297.6" stroke="#F39B7F" stroke-width="5" />
<text x="0" y="0" font-size="31.6" font-family="'Liberation Sans', Arial, Helvetica, sans-serif" stroke="#000" stroke-width="0.7" transform="translate(1423.09,312.40) scale(1.0052,1)">B CELL RECEPTOR SIGNALING PATHWAY (ES=0.4320, NP=0.0477)</text>
<line x1="1401.5" y1="378.9" x2="2411.4" y2="378.9" stroke="#000" stroke-width="2.4" stroke-opacity="0.12"/>
<line x1="1401.5" y1="417.8" x2="2411.4" y2="417.8" stroke="#000" stroke-width="2.4" stroke-opacity="0.12"/>
<line x1="1401.5" y1="456.8" x2="2411.4" y2="456.8" stroke="#000" stroke-width="2.4" stroke-opacity="0.12"/>
<line x1="1401.5" y1="495.8" x2="2411.4" y2="495.8" stroke="#000" stroke-width="2.4" stroke-opacity="0.12"/>
<line x1="1401.5" y1="534.8" x2="2411.4" y2="534.8" stroke="#000" stroke-width="2.4" stroke-opacity="0.12"/>
<line x1="1401.5" y1="824.4" x2="2411.4" y2="824.4" stroke="#000" stroke-width="2.4" stroke-opacity="0.12"/>
<line x1="1401.5" y1="892.3" x2="2411.4" y2="892.3" stroke="#000" stroke-width="2.4" stroke-opacity="0.12"/>
<line x1="1401.5" y1="1029.5" x2="2411.4" y2="1029.5" stroke="#000" stroke-width="2.4" stroke-opacity="0.12"/>
<path d="M1421.0,959.8 L1421.0,805.1 L1421.0,805.1 L1425.6,805.1 L1425.8,839.7 L1425.9,841.5 L1426.1,843.9 L1426.4,846.9 L1426.6,849.9 L1426.9,852.8 L1427.2,855.2 L1427.5,857.1 L1427.9,858.8 L1428.2,860.2 L1428.6,861.6 L1429.1,863.0 L1429.5,864.5 L1430.0,866.1 L1430.4,867.7 L1430.9,869.3 L1431.4,870.9 L1432.0,872.4 L1432.6,873.9 L1433.2,875.2 L1433.9,876.5 L1434.6,877.7 L1435.3,878.9 L1436.2,880.2 L1437.3,881.6 L1438.5,883.2 L1439.8,885.0 L1441.3,886.9 L1442.9,888.7 L1444.6,890.6 L1446.6,892.5 L1448.8,894.4 L1451.3,896.3 L1454.0,898.2 L1456.7,900.1 L1459.4,901.9 L1462.1,903.4 L1464.7,904.7 L1467.3,905.9 L1469.8,906.9 L1472.4,907.8 L1475.0,908.7 L1477.6,909.6 L1480.0,910.4 L1482.2,911.1 L1484.4,911.8 L1486.9,912.5 L1489.7,913.3 L1493.2,914.2 L1497.5,915.4 L1502.4,916.7 L1507.7,918.1 L1513.3,919.5 L1518.8,920.8 L1524.2,922.0 L1529.4,923.0 L1534.6,923.8 L1539.7,924.5 L1544.9,925.2 L1550.1,925.9 L1555.3,926.6 L1560.3,927.4 L1565.1,928.1 L1569.8,928.9 L1574.8,929.7 L1580.2,930.5 L1586.3,931.3 L1592.9,932.1 L1599.9,933.0 L1607.3,933.9 L1615.3,934.8 L1623.8,935.7 L1632.9,936.7 L1643.3,937.7 L1654.9,938.9 L1667.2,940.0 L1679.2,941.1 L1690.4,942.2 L1700.0,943.0 L1707.2,943.6 L1712.4,944.0 L1716.8,944.3 L1721.3,944.5 L1727.1,944.9 L1735.3,945.5 L1746.4,946.4 L1759.7,947.4 L1774.3,948.6 L1789.2,949.7 L1803.5,950.8 L1816.2,951.7 L1827.1,952.3 L1836.9,952.8 L1846.0,953.2 L1855.1,953.6 L1864.6,954.0 L1875.0,954.6 L1886.0,955.3 L1897.0,956.1 L1908.4,956.9 L1920.7,957.8 L1934.2,958.7 L1949.4,959.7 L1966.3,960.7 L1984.4,961.6 L2003.9,962.6 L2024.5,963.7 L2046.3,964.9 L2069.1,966.3 L2094.2,967.9 L2121.9,969.7 L2150.7,971.6 L2179.2,973.7 L2206.0,975.7 L2229.6,977.6 L2250.0,979.5 L2268.3,981.4 L2284.9,983.3 L2300.1,985.2 L2314.3,987.1 L2327.9,989.0 L2340.8,990.9 L2352.9,992.9 L2363.9,994.8 L2373.8,996.8 L2382.6,998.6 L2390.0,1000.3 L2395.7,1001.8 L2399.6,1003.1 L2402.3,1004.3 L2404.3,1005.5 L2406.3,1006.9 L2408.8,1008.5 L2411.8,1010.3 L2414.8,1012.2 L2417.7,1014.3 L2420.4,1016.5 L2422.9,1018.9 L2425.0,1021.5 L2426.7,1024.3 L2428.0,1027.4 L2429.1,1030.6 L2430.0,1034.1 L2430.7,1037.6 L2431.4,1041.2 L2432.0,1045.3 L2432.3,1049.8 L2432.6,1054.5 L2432.8,1059.0 L2432.9,1062.7 L2433.0,1065.4 L2435.3,1065.4 L2435.3,959.8 Z" fill="#CCCCCC"/>
<line x1="1424.5" y1="320.6" x2="1424.5" y2="626.3" stroke="#000" stroke-width="2.4" stroke-opacity="0.12"/>
<line x1="1424.5" y1="782.1" x2="1424.5" y2="1088.7" stroke="#000" stroke-width="2.4" stroke-opacity="0.12"/>
<line x1="1585.4" y1="320.6" x2="1585.4" y2="626.3" stroke="#000" stroke-width="2.4" stroke-opacity="0.12"/>
<line x1="1585.4" y1="782.1" x2="1585.4" y2="1088.7" stroke="#000" stroke-width="2.4" stroke-opacity="0.12"/>
<line x1="1746.3" y1="320.6" x2="1746.3" y2="626.3" stroke="#000" stroke-width="2.4" stroke-opacity="0.12"/>
<line x1="1746.3" y1="782.1" x2="1746.3" y2="1088.7" stroke="#000" stroke-width="2.4" stroke-opacity="0.12"/>
<line x1="1907.3" y1="320.6" x2="1907.3" y2="626.3" stroke="#000" stroke-width="2.4" stroke-opacity="0.12"/>
<line x1="1907.3" y1="782.1" x2="1907.3" y2="1088.7" stroke="#000" stroke-width="2.4" stroke-opacity="0.12"/>
<line x1="2068.2" y1="320.6" x2="2068.2" y2="626.3" stroke="#000" stroke-width="2.4" stroke-opacity="0.12"/>
<line x1="2068.2" y1="782.1" x2="2068.2" y2="1088.7" stroke="#000" stroke-width="2.4" stroke-opacity="0.12"/>
<line x1="2229.1" y1="320.6" x2="2229.1" y2="626.3" stroke="#000" stroke-width="2.4" stroke-opacity="0.12"/>
<line x1="2229.1" y1="782.1" x2="2229.1" y2="1088.7" stroke="#000" stroke-width="2.4" stroke-opacity="0.12"/>
<line x1="2390" y1="320.6" x2="2390" y2="626.3" stroke="#000" stroke-width="2.4" stroke-opacity="0.12"/>
<line x1="2390" y1="782.1" x2="2390" y2="1088.7" stroke="#000" stroke-width="2.4" stroke-opacity="0.12"/>
<line x1="1401.5" y1="573.7" x2="2455.7" y2="573.7" stroke="#000" stroke-width="2.4" stroke-opacity="0.12"/>
<line x1="1401.5" y1="573.7" x2="2455.7" y2="573.7" stroke="#777" stroke-width="1.4" stroke-dasharray="4.5,2.5"/>
<line x1="1401.5" y1="959.8" x2="2455.7" y2="959.8" stroke="#000" stroke-width="2.4" stroke-opacity="0.12"/>
<line x1="1401.5" y1="959.8" x2="2455.7" y2="959.8" stroke="#777" stroke-width="1.4" stroke-dasharray="4.5,2.5"/>
<path d="M1424,571.5 L1424.8,555.2 L1430.2,538.1 L1433.3,516.3 L1436.4,500.8 L1440.3,476 L1441.1,471.3 L1448.8,462 L1456.6,451.1 L1461.2,441.8 L1463.6,430.9 L1469,423.2 L1471.3,410.7 L1472.9,401.4 L1476.8,398.3 L1479.9,395.2 L1483,392.1 L1488.4,384.3 L1497,382.8 L1500.1,379.7 L1507.8,365.7 L1512.5,351.7 L1518.7,351.7 L1560.6,354.8 L1582.4,352.5 L1604.1,356.4 L1613.4,350.2 L1628.9,350.2 L1653.8,356.4 L1661.6,354.1 L1667.8,347.1 L1670.9,345.5 L1670.9,342.4 L1674,344.8 L1710,354.8 L1717.1,358 L1728,358.7 L1752.8,365.7 L1765.2,368.8 L1808.7,381.2 L1877,403.8 L1901.9,413.9 L2000,450.4 L2062.1,474.5 L2124.2,495.5 L2186.3,518 L2251.6,538.2 L2273.3,541.3 L2300,549.8 L2319.4,554 L2331.8,557.1 L2344.2,555.3 L2356.6,559 L2384,564.6 L2393.9,567.1 L2403.9,563.4 L2413.8,564.6 L2431.2,571.4" fill="none" stroke="#E64B35" stroke-width="4.0" stroke-linejoin="round"/>
<path d="M1424,571.5 L1427.1,550.5 L1430.2,542.7 L1433.3,511.7 L1437.2,493 L1441.1,485.3 L1447.3,480.6 L1451.9,469.8 L1455,465.1 L1458.1,458.9 L1465.9,452.7 L1469,441.8 L1472.1,429.4 L1473.7,417 L1475.2,410.7 L1481.4,406.1 L1486.1,398.3 L1490.7,387.5 L1498.5,371.9 L1518.7,370.4 L1545.1,374.3 L1557.5,372.7 L1560.6,366.5 L1611.9,382.8 L1624.3,378.1 L1636.7,377.4 L1638.3,372.7 L1658.4,376.6 L1674,377.4 L1710,390.6 L1728,393.7 L1737.3,394.4 L1765.2,403.8 L1805.6,420.1 L1824.2,423.9 L1894.1,444.1 L1964,472.9 L2000,484.6 L2069.9,507.1 L2121.1,518 L2149.1,527.3 L2232.9,553 L2256.2,563.8 L2279.5,566.9 L2300,572.4 L2319.4,580.7 L2369.1,595.7 L2396.4,603.7 L2411.3,600 L2418.8,582.6 L2431.2,573.9" fill="none" stroke="#4DBBD5" stroke-width="4.0" stroke-linejoin="round"/>
<path d="M1423.2,571.5 L1424.8,547.4 L1425.5,535 L1426.3,493 L1430.2,485.3 L1434.8,474.4 L1441.1,457.3 L1445.7,444.9 L1453.5,435.6 L1462.8,429.4 L1472.1,425.5 L1476.8,415.4 L1479.1,399.9 L1481.4,392.1 L1483.8,376.6 L1487.6,371.9 L1490.7,370.4 L1490.7,362.6 L1497,358 L1510.9,357.2 L1515.6,352.5 L1566.8,358 L1574.6,356.4 L1618.1,369.6 L1625.8,365.7 L1655.3,373.5 L1656.9,368 L1674,371.1 L1689.5,372.7 L1710,381.2 L1721.7,382.8 L1737.3,385.9 L1743.5,386.7 L1765.2,393.7 L1895.7,441 L1901.9,442.6 L1964,465.1 L1976.4,469 L2000,479.5 L2037.3,491.6 L2093.2,508.7 L2096.3,507.9 L2130.4,517.2 L2195.7,536.6 L2239.1,549.1 L2254.7,555.3 L2264,555.3 L2284.2,559.9 L2300,561.5 L2313.2,560.9 L2319.4,556.5 L2356.6,566.5 L2359.1,562.1 L2384,565.8 L2393.9,557.1 L2413.8,565.2 L2431.2,571.4" fill="none" stroke="#00A087" stroke-width="4.0" stroke-linejoin="round"/>
<path d="M1424.8,571.5 L1430.2,553.6 L1432.5,542.7 L1434.8,527.2 L1438,521 L1441.1,494.6 L1451.9,479.1 L1456.6,465.1 L1462.8,457.3 L1469,454.2 L1476.8,444.9 L1484.5,437.1 L1490.7,433.3 L1507.8,434.8 L1512.5,429.4 L1515.6,416.2 L1529.6,414.6 L1537.3,410 L1556,412.3 L1563.7,409.2 L1582.4,406.1 L1582.4,398.3 L1602.5,403.8 L1613.4,398.3 L1630.5,400.7 L1633.6,395.2 L1658.4,398.3 L1674,393.7 L1689.5,392.9 L1695.7,389.8 L1710,396 L1718.6,397.5 L1738.8,401.4 L1762.1,407.6 L1765.2,405.8 L1818,422.4 L1824.2,421.6 L1901.9,451.1 L1964,475.2 L2000,488.1 L2065.2,511.8 L2071.4,511.8 L2119.6,525.8 L2121.1,521.9 L2147.5,530.4 L2149.1,528.1 L2214.3,553 L2237.6,559.2 L2237.6,553 L2260.9,550.6 L2273.3,552.2 L2300,559.9 L2319.4,564.6 L2371.6,579.5 L2391.4,581.4 L2393.9,572 L2413.8,572 L2413.8,564.6 L2431.2,570.2" fill="none" stroke="#3C5488" stroke-width="4.0" stroke-linejoin="round"/>
<path d="M1422.4,571.5 L1423.2,550.5 L1430.2,538.1 L1433.3,505.5 L1436.4,493 L1438.7,462 L1439.5,450.3 L1455,443.4 L1490.7,449.6 L1490.7,440.2 L1512.5,441.8 L1523.4,438.7 L1532.7,427.8 L1556,430.2 L1560.6,427 L1568.4,418.5 L1604.1,422.4 L1607.2,413.1 L1628.9,418.5 L1641.4,410.7 L1664.7,411.5 L1674,406.9 L1680.2,403.8 L1689.5,406.1 L1695.7,404.5 L1711.2,407.6 L1718.6,406.9 L1752.8,418.5 L1763.7,420.1 L1766.8,418.5 L1855.3,454.2 L1964,494.6 L1973.3,496.9 L2000,506.7 L2035.7,520.3 L2040.4,520.3 L2093.2,535.9 L2099.4,535.9 L2119.6,541.3 L2121.1,539 L2217.4,573.1 L2237.6,577.8 L2237.6,573.1 L2243.8,568.5 L2260.9,566.1 L2273.3,566.9 L2300,575.5 L2371.6,593.2 L2391.4,593.8 L2393.9,588.2 L2411.3,585.7 L2413.8,577 L2423.7,572 L2431.2,571.4" fill="none" stroke="#F39B7F" stroke-width="4.0" stroke-linejoin="round"/>
<path d="M1421.4,628.1H1426.6V657.1H1421.4ZM1427.1,628.1H1435.6V657.1H1427.1ZM1437.2,628.1H1442.1V657.1H1437.2ZM1446,628.1H1450.1V657.1H1446ZM1453.3,628.1H1457.6V657.1H1453.3ZM1459.2,628.1H1466.9V657.1H1459.2ZM1468.9,628.1H1476V657.1H1468.9ZM1480.9,628.1H1487V657.1H1480.9ZM1497,628.1H1515.1V657.1H1497ZM1536.2,628.1H1540.7V657.1H1536.2ZM1557.5,628.1H1561.7V657.1H1557.5ZM1571.1,628.1H1575.4V657.1H1571.1ZM1581.1,628.1H1585.3V657.1H1581.1ZM1602.8,628.1H1607.3V657.1H1602.8ZM1609.9,628.1H1617.7V657.1H1609.9ZM1627.1,628.1H1631.3V657.1H1627.1ZM1652,628.1H1656.5V657.1H1652ZM1660,628.1H1673.6V657.1H1660ZM1716.3,628.1H1720.8V657.1H1716.3ZM1727,628.1H1731.2V657.1H1727ZM1751.2,628.1H1755.1V657.1H1751.2ZM1764.8,628.1H1769V657.1H1764.8ZM1782.9,628.1H1787.5V657.1H1782.9ZM1801,628.1H1804.9V657.1H1801ZM1817.9,628.1H1822V657.1H1817.9ZM1838.3,628.1H1842.5V657.1H1838.3ZM1859.3,628.1H1863.8V657.1H1859.3ZM1875.8,628.1H1880V657.1H1875.8ZM1940.4,628.1H1944.9V657.1H1940.4ZM2021,628.1H2025.2V657.1H2021ZM2098.9,628.1H2103.1V657.1H2098.9ZM2181.7,628.1H2185.9V657.1H2181.7ZM2251.9,628.1H2256V657.1H2251.9ZM2271.9,628.1H2276.2V657.1H2271.9ZM2331.5,628.1H2335.7V657.1H2331.5ZM2342.2,628.1H2346.6V657.1H2342.2ZM2393.4,628.1H2397.6V657.1H2393.4ZM2403.4,628.1H2407.6V657.1H2403.4ZM2431.4,628.1H2435.6V657.1H2431.4Z" fill="#E64B35"/>
<path d="M1421.4,658.7H1442.6V687.8H1421.4ZM1446,658.7H1453.3V687.8H1446ZM1456.8,658.7H1461.1V687.8H1456.8ZM1462.8,658.7H1466.9V687.8H1462.8ZM1468.2,658.7H1477.5V687.8H1468.2ZM1481.4,658.7H1492.2V687.8H1481.4ZM1493.9,658.7H1500.8V687.8H1493.9ZM1516.1,658.7H1520.2V687.8H1516.1ZM1542.6,658.7H1546.9V687.8H1542.6ZM1556.2,658.7H1562.4V687.8H1556.2ZM1611.2,658.7H1615.5V687.8H1611.2ZM1617.7,658.7H1622.2V687.8H1617.7ZM1623.8,658.7H1628V687.8H1623.8ZM1634.1,658.7H1639.7V687.8H1634.1ZM1655.6,658.7H1661V687.8H1655.6ZM1665.4,658.7H1669.7V687.8H1665.4ZM1690,658.7H1694.3V687.8H1690ZM1727.9,658.7H1732.2V687.8H1727.9ZM1735.7,658.7H1740V687.8H1735.7ZM1802.1,658.7H1810.8V687.8H1802.1ZM1821.1,658.7H1829.8V687.8H1821.1ZM1842.5,658.7H1847V687.8H1842.5ZM1854.4,658.7H1861.9V687.8H1854.4ZM1891,658.7H1895.2V687.8H1891ZM1966.9,658.7H1972.8V687.8H1966.9ZM2007,658.7H2019.3V687.8H2007ZM2026.2,658.7H2030.6V687.8H2026.2ZM2065.9,658.7H2070.2V687.8H2065.9ZM2071.7,658.7H2075.9V687.8H2071.7ZM2103.8,658.7H2108V687.8H2103.8ZM2110.3,658.7H2114.5V687.8H2110.3ZM2118.1,658.7H2122.2V687.8H2118.1ZM2130.6,658.7H2134.9V687.8H2130.6ZM2257.7,658.7H2262.2V687.8H2257.7ZM2283.6,658.7H2287.8V687.8H2283.6ZM2393.8,658.7H2398V687.8H2393.8ZM2409.3,658.7H2420.1V687.8H2409.3ZM2431.4,658.7H2435.6V687.8H2431.4Z" fill="#4DBBD5"/>
<path d="M1421.4,689.4H1429.2V718.6H1421.4ZM1431,689.4H1449.5V718.6H1431ZM1452.1,689.4H1455.9V718.6H1452.1ZM1459.8,689.4H1464.1V718.6H1459.8ZM1470.2,689.4H1486.6V718.6H1470.2ZM1488.3,689.4H1492.8V718.6H1488.3ZM1494.8,689.4H1499V718.6H1494.8ZM1508.3,689.4H1517.1V718.6H1508.3ZM1532.9,689.4H1537.5V718.6H1532.9ZM1550,689.4H1554.3V718.6H1550ZM1565.3,689.4H1569.8V718.6H1565.3ZM1573.3,689.4H1578V718.6H1573.3ZM1616,689.4H1620.3V718.6H1616ZM1622,689.4H1628.9V718.6H1622ZM1652.6,689.4H1660V718.6H1652.6ZM1672.3,689.4H1676.6V718.6H1672.3ZM1683,689.4H1691.3V718.6H1683ZM1720.2,689.4H1724.4V718.6H1720.2ZM1733.1,689.4H1737.6V718.6H1733.1ZM1740.9,689.4H1745.1V718.6H1740.9ZM1761.6,689.4H1765.8V718.6H1761.6ZM1801.3,689.4H1805.6V718.6H1801.3ZM1834.7,689.4H1839.2V718.6H1834.7ZM1870.3,689.4H1874.8V718.6H1870.3ZM1894.2,689.4H1902.6V718.6H1894.2ZM1912.3,689.4H1916.7V718.6H1912.3ZM1925.8,689.4H1930.4V718.6H1925.8ZM1943,689.4H1947.3V718.6H1943ZM1961.1,689.4H1967.2V718.6H1961.1ZM1973.4,689.4H1977.9V718.6H1973.4ZM2020.2,689.4H2024.5V718.6H2020.2ZM2034,689.4H2040.4V718.6H2034ZM2078,689.4H2082.4V718.6H2078ZM2091.8,689.4H2099.6V718.6H2091.8ZM2120.3,689.4H2124.5V718.6H2120.3ZM2128.9,689.4H2133.2V718.6H2128.9ZM2164.5,689.4H2168.8V718.6H2164.5ZM2186.5,689.4H2190.8V718.6H2186.5ZM2207.9,689.4H2212V718.6H2207.9ZM2253.2,689.4H2257.3V718.6H2253.2ZM2260.9,689.4H2265.1V718.6H2260.9ZM2282.7,689.4H2287.1V718.6H2282.7ZM2291,689.4H2295.2V718.6H2291ZM2310.1,689.4H2321.7V718.6H2310.1ZM2354.6,689.4H2361.9V718.6H2354.6ZM2382.1,689.4H2396.3V718.6H2382.1ZM2431.4,689.4H2435.6V718.6H2431.4Z" fill="#00A087"/>
<path d="M1421.4,720.2H1443.9V749.4H1421.4ZM1446,720.2H1463.1V749.4H1446ZM1468,720.2H1476.3V749.4H1468ZM1477.9,720.2H1486.6V749.4H1477.9ZM1488.9,720.2H1493.1V749.4H1488.9ZM1506,720.2H1519V749.4H1506ZM1525.8,720.2H1530.1V749.4H1525.8ZM1533.2,720.2H1540.7V749.4H1533.2ZM1553.4,720.2H1557.5V749.4H1553.4ZM1559.1,720.2H1563.3V749.4H1559.1ZM1567.2,720.2H1571.5V749.4H1567.2ZM1573.3,720.2H1577.6V749.4H1573.3ZM1579.5,720.2H1584.9V749.4H1579.5ZM1601.8,720.2H1617.7V749.4H1601.8ZM1628.4,720.2H1640.1V749.4H1628.4ZM1652,720.2H1656.5V749.4H1652ZM1660,720.2H1672.9V749.4H1660ZM1674.9,720.2H1682.3V749.4H1674.9ZM1685.9,720.2H1698.8V749.4H1685.9ZM1716.7,720.2H1720.8V749.4H1716.7ZM1727.9,720.2H1732.2V749.4H1727.9ZM1738.3,720.2H1742.2V749.4H1738.3ZM1751.2,720.2H1755.1V749.4H1751.2ZM1760.3,720.2H1769V749.4H1760.3ZM1785.3,720.2H1789.4V749.4H1785.3ZM1795.2,720.2H1799.1V749.4H1795.2ZM1815,720.2H1825.6V749.4H1815ZM1862.9,720.2H1867V749.4H1862.9ZM1892.3,720.2H1896.5V749.4H1892.3ZM1898.7,720.2H1902.6V749.4H1898.7ZM1940.8,720.2H1944.9V749.4H1940.8ZM1947.8,720.2H1953.3V749.4H1947.8ZM1965,720.2H1969.3V749.4H1965ZM1971.1,720.2H1975.3V749.4H1971.1ZM1986.3,720.2H1990.5V749.4H1986.3ZM2034,720.2H2038.4V749.4H2034ZM2063,720.2H2067.2V749.4H2063ZM2069.2,720.2H2074.6V749.4H2069.2ZM2084.7,720.2H2088.8V749.4H2084.7ZM2098.9,720.2H2103.1V749.4H2098.9ZM2118.1,720.2H2123.8V749.4H2118.1ZM2146.2,720.2H2151.7V749.4H2146.2ZM2212.8,720.2H2216.9V749.4H2212.8ZM2235.1,720.2H2243.1V749.4H2235.1ZM2244.8,720.2H2249V749.4H2244.8ZM2252.1,720.2H2256.4V749.4H2252.1ZM2259,720.2H2263.3V749.4H2259ZM2271.9,720.2H2276.2V749.4H2271.9ZM2302.3,720.2H2306.9V749.4H2302.3ZM2335.3,720.2H2339.6V749.4H2335.3ZM2370.9,720.2H2375.1V749.4H2370.9ZM2389.6,720.2H2396.7V749.4H2389.6ZM2412.2,720.2H2416.8V749.4H2412.2ZM2431.4,720.2H2435.6V749.4H2431.4Z" fill="#3C5488"/>
<path d="M1421.4,751H1426.2V780.3H1421.4ZM1429.2,751H1442.6V780.3H1429.2ZM1452.4,751H1456.6V780.3H1452.4ZM1488.7,751H1493.1V780.3H1488.7ZM1510.7,751H1515.1V780.3H1510.7ZM1521,751H1529.7V780.3H1521ZM1531.4,751H1535.5V780.3H1531.4ZM1553.4,751H1557.5V780.3H1553.4ZM1559.1,751H1565.9V780.3H1559.1ZM1567.2,751H1571.5V780.3H1567.2ZM1589.2,751H1593.5V780.3H1589.2ZM1601.5,751H1609.5V780.3H1601.5ZM1628,751H1644.2V780.3H1628ZM1652,751H1656.5V780.3H1652ZM1662.6,751H1672.9V780.3H1662.6ZM1674.9,751H1682.3V780.3H1674.9ZM1690,751H1698.8V780.3H1690ZM1710.2,751H1714.6V780.3H1710.2ZM1716.7,751H1720.8V780.3H1716.7ZM1751.2,751H1755.1V780.3H1751.2ZM1761.2,751H1769V780.3H1761.2ZM1862.9,751H1867V780.3H1862.9ZM1892.3,751H1896.5V780.3H1892.3ZM1947.8,751H1953.3V780.3H1947.8ZM1965,751H1975.7V780.3H1965ZM1986.3,751H1990.5V780.3H1986.3ZM2034,751H2038.4V780.3H2034ZM2040.4,751H2044.8V780.3H2040.4ZM2063,751H2067.2V780.3H2063ZM2084.7,751H2088.8V780.3H2084.7ZM2093.7,751H2097.9V780.3H2093.7ZM2098.9,751H2103.1V780.3H2098.9ZM2118.1,751H2123.8V780.3H2118.1ZM2212.4,751H2216.9V780.3H2212.4ZM2235.1,751H2243.1V780.3H2235.1ZM2244.8,751H2249V780.3H2244.8ZM2252.1,751H2256.4V780.3H2252.1ZM2259,751H2263.3V780.3H2259ZM2271.9,751H2276.2V780.3H2271.9ZM2306.5,751H2310.8V780.3H2306.5ZM2370.9,751H2375.1V780.3H2370.9ZM2389.6,751H2396.7V780.3H2389.6ZM2411.4,751H2416.8V780.3H2411.4ZM2426.8,751H2435.6V780.3H2426.8Z" fill="#F39B7F"/>
<line x1="1401.5" y1="627.3" x2="2455.7" y2="627.3" stroke="#000" stroke-width="2.6" />
<line x1="1401.5" y1="657.9" x2="2455.7" y2="657.9" stroke="#000" stroke-width="2.6" />
<line x1="1401.5" y1="688.6" x2="2455.7" y2="688.6" stroke="#000" stroke-width="2.6" />
<line x1="1401.5" y1="719.4" x2="2455.7" y2="719.4" stroke="#000" stroke-width="2.6" />
<line x1="1401.5" y1="750.2" x2="2455.7" y2="750.2" stroke="#000" stroke-width="2.6" />
<line x1="1401.5" y1="781.1" x2="2455.7" y2="781.1" stroke="#000" stroke-width="2.6" />
<line x1="1400.4" y1="1090.1" x2="2456.8" y2="1090.1" stroke="#000" stroke-width="3.0" />
<rect x="1401.5" y="319.6" width="1054.2" height="770.1" fill="none" stroke="#000" stroke-width="2.2"/>
<line x1="1401.9" y1="343.4" x2="1401.9" y2="606.3" stroke="#000" stroke-width="2.6" />
<line x1="1388" y1="344.5" x2="1401.9" y2="344.5" stroke="#000" stroke-width="2.2" />
<line x1="1388" y1="378.9" x2="1401.9" y2="378.9" stroke="#000" stroke-width="2.2" />
<line x1="1388" y1="417.8" x2="1401.9" y2="417.8" stroke="#000" stroke-width="2.2" />
<line x1="1388" y1="456.8" x2="1401.9" y2="456.8" stroke="#000" stroke-width="2.2" />
<line x1="1388" y1="495.8" x2="1401.9" y2="495.8" stroke="#000" stroke-width="2.2" />
<line x1="1388" y1="534.8" x2="1401.9" y2="534.8" stroke="#000" stroke-width="2.2" />
<line x1="1388" y1="573.7" x2="1401.9" y2="573.7" stroke="#000" stroke-width="2.2" />
<line x1="1388" y1="605.2" x2="1401.9" y2="605.2" stroke="#000" stroke-width="2.2" />
<text x="1373.6" y="391.6" font-size="36" text-anchor="end" font-family="'Liberation Sans', Arial, Helvetica, sans-serif" stroke="#000" stroke-width="0.7" >0.5</text>
<text x="1373.6" y="430.3" font-size="36" text-anchor="end" font-family="'Liberation Sans', Arial, Helvetica, sans-serif" stroke="#000" stroke-width="0.7" >0.4</text>
<text x="1373.6" y="469.3" font-size="36" text-anchor="end" font-family="'Liberation Sans', Arial, Helvetica, sans-serif" stroke="#000" stroke-width="0.7" >0.3</text>
<text x="1373.6" y="508.2" font-size="36" text-anchor="end" font-family="'Liberation Sans', Arial, Helvetica, sans-serif" stroke="#000" stroke-width="0.7" >0.2</text>
<text x="1373.6" y="546.9" font-size="36" text-anchor="end" font-family="'Liberation Sans', Arial, Helvetica, sans-serif" stroke="#000" stroke-width="0.7" >0.1</text>
<text x="1373.6" y="585.9" font-size="36" text-anchor="end" font-family="'Liberation Sans', Arial, Helvetica, sans-serif" stroke="#000" stroke-width="0.7" >0.0</text>
<line x1="1401.9" y1="805.5" x2="1401.9" y2="1068.8" stroke="#000" stroke-width="2.6" />
<line x1="1388" y1="806.6" x2="1401.9" y2="806.6" stroke="#000" stroke-width="2.2" />
<line x1="1388" y1="824.4" x2="1401.9" y2="824.4" stroke="#000" stroke-width="2.2" />
<line x1="1388" y1="892.3" x2="1401.9" y2="892.3" stroke="#000" stroke-width="2.2" />
<line x1="1388" y1="960.9" x2="1401.9" y2="960.9" stroke="#000" stroke-width="2.2" />
<line x1="1388" y1="1029.5" x2="1401.9" y2="1029.5" stroke="#000" stroke-width="2.2" />
<line x1="1388" y1="1067.7" x2="1401.9" y2="1067.7" stroke="#000" stroke-width="2.2" />
<text x="1373.6" y="836.9" font-size="36" text-anchor="end" font-family="'Liberation Sans', Arial, Helvetica, sans-serif" stroke="#000" stroke-width="0.7" >1.0</text>
<text x="1373.6" y="904.8" font-size="36" text-anchor="end" font-family="'Liberation Sans', Arial, Helvetica, sans-serif" stroke="#000" stroke-width="0.7" >0.5</text>
<text x="1373.6" y="973.4" font-size="36" text-anchor="end" font-family="'Liberation Sans', Arial, Helvetica, sans-serif" stroke="#000" stroke-width="0.7" >0.0</text>
<text x="1373.6" y="1042" font-size="36" text-anchor="end" font-family="'Liberation Sans', Arial, Helvetica, sans-serif" stroke="#000" stroke-width="0.7" >-0.5</text>
<text x="1436" y="829.6" font-size="30.5" text-anchor="start" font-family="'Liberation Serif', 'Times New Roman', serif"  >H</text>
<text x="2404" y="1066" font-size="30.5" text-anchor="start" font-family="'Liberation Serif', 'Times New Roman', serif"  >L</text>
<line x1="1424.5" y1="1089.7" x2="1424.5" y2="1104.7" stroke="#000" stroke-width="2.2" />
<line x1="1585.4" y1="1089.7" x2="1585.4" y2="1104.7" stroke="#000" stroke-width="2.2" />
<line x1="1746.3" y1="1089.7" x2="1746.3" y2="1104.7" stroke="#000" stroke-width="2.2" />
<line x1="1907.3" y1="1089.7" x2="1907.3" y2="1104.7" stroke="#000" stroke-width="2.2" />
<line x1="2068.2" y1="1089.7" x2="2068.2" y2="1104.7" stroke="#000" stroke-width="2.2" />
<line x1="2229.1" y1="1089.7" x2="2229.1" y2="1104.7" stroke="#000" stroke-width="2.2" />
<line x1="2390" y1="1089.7" x2="2390" y2="1104.7" stroke="#000" stroke-width="2.2" />
<line x1="2434" y1="1089.7" x2="2434" y2="1104.7" stroke="#000" stroke-width="2.2" />
<text x="1424.5" y="1142.5" font-size="35.7" text-anchor="middle" font-family="'Liberation Sans', Arial, Helvetica, sans-serif" stroke="#000" stroke-width="0.7" >0</text>
<text x="1586.4" y="1142.5" font-size="35.7" text-anchor="middle" font-family="'Liberation Sans', Arial, Helvetica, sans-serif" stroke="#000" stroke-width="0.7" >2000</text>
<text x="1748.3" y="1142.5" font-size="35.7" text-anchor="middle" font-family="'Liberation Sans', Arial, Helvetica, sans-serif" stroke="#000" stroke-width="0.7" >4000</text>
<text x="1910.2" y="1142.5" font-size="35.7" text-anchor="middle" font-family="'Liberation Sans', Arial, Helvetica, sans-serif" stroke="#000" stroke-width="0.7" >6000</text>
<text x="2072" y="1142.5" font-size="35.7" text-anchor="middle" font-family="'Liberation Sans', Arial, Helvetica, sans-serif" stroke="#000" stroke-width="0.7" >8000</text>
<text x="2233.9" y="1142.5" font-size="35.7" text-anchor="middle" font-family="'Liberation Sans', Arial, Helvetica, sans-serif" stroke="#000" stroke-width="0.7" >10000</text>
<text x="2395.8" y="1142.5" font-size="35.7" text-anchor="middle" font-family="'Liberation Sans', Arial, Helvetica, sans-serif" stroke="#000" stroke-width="0.7" >12000</text>
<text x="1930.5" y="1181.9" font-size="36" text-anchor="middle" font-family="'Liberation Sans', Arial, Helvetica, sans-serif" stroke="#000" stroke-width="0.7" >Rank in Ordered DataSet</text>
<text x="1927.8" y="1220.7" font-size="36" text-anchor="middle" font-family="'Liberation Sans', Arial, Helvetica, sans-serif" stroke="#000" stroke-width="0.7" >CD163 OF GSE96804</text>
<text x="0" y="0" font-size="36.3" text-anchor="middle" font-family="'Liberation Sans', Arial, Helvetica, sans-serif" stroke="#000" stroke-width="0.7" transform="translate(1303.2,476.7) rotate(-90)">Enrichment score</text>
<text x="0" y="0" font-size="36.3" text-anchor="middle" font-family="'Liberation Sans', Arial, Helvetica, sans-serif" stroke="#000" stroke-width="0.7" transform="translate(1303.4,928.8) rotate(-90)">Ranked list metric</text>
<text x="13.5" y="1299.2" font-size="56" text-anchor="start" font-family="'Liberation Sans', Arial, Helvetica, sans-serif" stroke="#000" stroke-width="0.7" >C</text>
<line x1="140" y1="1302.2" x2="156" y2="1302.2" stroke="#E64B35" stroke-width="5" />
<text x="0" y="0" font-size="31.6" font-family="'Liberation Sans', Arial, Helvetica, sans-serif" stroke="#000" stroke-width="0.7" transform="translate(161.29,1316.60) scale(1.0047,1)">NOD LIKE RECEPTOR SIGNALING PATHWAY (ES=0.6151, NP=0.0002)</text>
<line x1="140" y1="1352.8" x2="156" y2="1352.8" stroke="#4DBBD5" stroke-width="5" />
<text x="0" y="0" font-size="31.6" font-family="'Liberation Sans', Arial, Helvetica, sans-serif" stroke="#000" stroke-width="0.7" transform="translate(163.60,1366.80) scale(0.9993,1)">FC GAMMA R MEDIATED PHAGOCYTOSIS (ES=0.5480, NP=0.0001)</text>
<line x1="140" y1="1403.4" x2="156" y2="1403.4" stroke="#00A087" stroke-width="5" />
<text x="0" y="0" font-size="31.6" font-family="'Liberation Sans', Arial, Helvetica, sans-serif" stroke="#000" stroke-width="0.7" transform="translate(161.31,1417.00) scale(0.9960,1)">ECM RECEPTOR INTERACTION (ES=0.5872,NP=0.0059)</text>
<line x1="140" y1="1454" x2="156" y2="1454" stroke="#3C5488" stroke-width="5" />
<text x="0" y="0" font-size="31.6" font-family="'Liberation Sans', Arial, Helvetica, sans-serif" stroke="#000" stroke-width="0.7" transform="translate(161.29,1467.20) scale(1.0064,1)">P53 SIGNALING PATHWAY (ES=0.5132, NP=0.0041)</text>
<line x1="140" y1="1504.6" x2="156" y2="1504.6" stroke="#F39B7F" stroke-width="5" />
<text x="0" y="0" font-size="31.6" font-family="'Liberation Sans', Arial, Helvetica, sans-serif" stroke="#000" stroke-width="0.7" transform="translate(163.29,1517.40) scale(1.0065,1)">T CELL RECEPTOR SIGNALING PATHWAY (ES=0.4499, NP=0.0060)</text>
<line x1="140" y1="1555.2" x2="156" y2="1555.2" stroke="#8491B4" stroke-width="5" />
<text x="0" y="0" font-size="31.6" font-family="'Liberation Sans', Arial, Helvetica, sans-serif" stroke="#000" stroke-width="0.7" transform="translate(161.29,1567.60) scale(1.0055,1)">B CELL RECEPTOR SIGNALING PATHWAY (ES=0.4250, NP=0.0283)</text>
<line x1="140.2" y1="1609.9" x2="1155.6" y2="1609.9" stroke="#000" stroke-width="2.4" stroke-opacity="0.12"/>
<line x1="140.2" y1="1650.3" x2="1155.6" y2="1650.3" stroke="#000" stroke-width="2.4" stroke-opacity="0.12"/>
<line x1="140.2" y1="1690.1" x2="1155.6" y2="1690.1" stroke="#000" stroke-width="2.4" stroke-opacity="0.12"/>
<line x1="140.2" y1="1729.6" x2="1155.6" y2="1729.6" stroke="#000" stroke-width="2.4" stroke-opacity="0.12"/>
<line x1="140.2" y1="1769.3" x2="1155.6" y2="1769.3" stroke="#000" stroke-width="2.4" stroke-opacity="0.12"/>
<line x1="140.2" y1="1808.8" x2="1155.6" y2="1808.8" stroke="#000" stroke-width="2.4" stroke-opacity="0.12"/>
<line x1="140.2" y1="2095.4" x2="1155.6" y2="2095.4" stroke="#000" stroke-width="2.4" stroke-opacity="0.12"/>
<line x1="140.2" y1="2162.7" x2="1155.6" y2="2162.7" stroke="#000" stroke-width="2.4" stroke-opacity="0.12"/>
<line x1="140.2" y1="2297" x2="1155.6" y2="2297" stroke="#000" stroke-width="2.4" stroke-opacity="0.12"/>
<path d="M161.0,2228.7 L161.0,2066.3 L161.0,2066.3 L165.6,2066.3 L165.8,2127.6 L165.9,2128.8 L166.1,2130.4 L166.3,2132.4 L166.5,2134.5 L166.8,2136.6 L167.2,2138.5 L167.7,2140.4 L168.2,2142.3 L168.8,2144.1 L169.5,2146.0 L170.3,2147.8 L171.1,2149.4 L172.0,2150.9 L172.9,2152.3 L173.9,2153.5 L174.9,2154.8 L176.1,2155.9 L177.3,2157.1 L178.6,2158.2 L179.9,2159.2 L181.4,2160.2 L182.9,2161.1 L184.7,2162.2 L186.6,2163.4 L188.8,2164.8 L191.3,2166.4 L194.0,2168.1 L196.7,2169.7 L199.4,2171.3 L202.1,2172.7 L204.7,2173.9 L207.3,2175.1 L209.8,2176.1 L212.4,2177.1 L215.0,2178.0 L217.6,2178.9 L220.0,2179.7 L222.2,2180.5 L224.4,2181.2 L226.9,2181.8 L229.7,2182.6 L233.2,2183.5 L237.5,2184.6 L242.4,2185.7 L247.7,2187.0 L253.3,2188.2 L258.8,2189.4 L264.2,2190.5 L269.4,2191.4 L274.6,2192.3 L279.8,2193.0 L284.9,2193.8 L290.1,2194.5 L295.3,2195.2 L300.3,2195.9 L305.1,2196.5 L309.8,2197.1 L314.8,2197.7 L320.2,2198.4 L326.3,2199.1 L332.9,2199.9 L339.9,2200.7 L347.3,2201.6 L355.3,2202.5 L363.8,2203.5 L372.9,2204.5 L383.1,2205.6 L394.6,2206.9 L406.5,2208.2 L418.5,2209.4 L429.8,2210.6 L440.0,2211.5 L448.4,2212.1 L455.4,2212.5 L461.8,2212.8 L468.4,2213.1 L475.9,2213.5 L485.3,2214.2 L497.0,2215.2 L510.4,2216.4 L524.9,2217.8 L539.6,2219.2 L553.6,2220.5 L566.2,2221.6 L577.6,2222.5 L588.4,2223.3 L598.6,2224.1 L608.2,2224.7 L617.0,2225.4 L625.0,2226.0 L630.5,2226.5 L633.3,2226.8 L635.3,2227.1 L638.6,2227.5 L645.3,2228.1 L657.4,2229.0 L675.9,2230.3 L699.3,2231.8 L726.1,2233.5 L754.7,2235.3 L783.5,2237.3 L811.0,2239.4 L838.2,2241.6 L866.6,2244.1 L895.3,2246.6 L923.2,2249.2 L949.6,2251.7 L973.4,2254.0 L994.7,2256.1 L1014.3,2258.1 L1032.3,2260.0 L1048.8,2261.8 L1064.0,2263.5 L1078.0,2265.3 L1090.7,2267.0 L1101.9,2268.7 L1111.8,2270.2 L1120.6,2271.8 L1128.4,2273.4 L1135.5,2275.0 L1141.5,2276.6 L1146.2,2278.1 L1149.9,2279.6 L1153.1,2281.2 L1155.9,2282.9 L1158.8,2284.7 L1161.7,2286.5 L1164.2,2288.3 L1166.4,2290.1 L1168.4,2292.2 L1170.2,2294.7 L1171.7,2297.6 L1173.0,2301.5 L1173.9,2306.2 L1174.7,2311.4 L1175.2,2316.3 L1175.6,2320.5 L1176.0,2323.5 L1180.5,2323.5 L1180.5,2228.7 Z" fill="#CCCCCC"/>
<line x1="164.3" y1="1578.8" x2="164.3" y2="1885.7" stroke="#000" stroke-width="2.4" stroke-opacity="0.12"/>
<line x1="164.3" y1="2041.9" x2="164.3" y2="2348.8" stroke="#000" stroke-width="2.4" stroke-opacity="0.12"/>
<line x1="326.1" y1="1578.8" x2="326.1" y2="1885.7" stroke="#000" stroke-width="2.4" stroke-opacity="0.12"/>
<line x1="326.1" y1="2041.9" x2="326.1" y2="2348.8" stroke="#000" stroke-width="2.4" stroke-opacity="0.12"/>
<line x1="487.9" y1="1578.8" x2="487.9" y2="1885.7" stroke="#000" stroke-width="2.4" stroke-opacity="0.12"/>
<line x1="487.9" y1="2041.9" x2="487.9" y2="2348.8" stroke="#000" stroke-width="2.4" stroke-opacity="0.12"/>
<line x1="649.7" y1="1578.8" x2="649.7" y2="1885.7" stroke="#000" stroke-width="2.4" stroke-opacity="0.12"/>
<line x1="649.7" y1="2041.9" x2="649.7" y2="2348.8" stroke="#000" stroke-width="2.4" stroke-opacity="0.12"/>
<line x1="811.5" y1="1578.8" x2="811.5" y2="1885.7" stroke="#000" stroke-width="2.4" stroke-opacity="0.12"/>
<line x1="811.5" y1="2041.9" x2="811.5" y2="2348.8" stroke="#000" stroke-width="2.4" stroke-opacity="0.12"/>
<line x1="973.3" y1="1578.8" x2="973.3" y2="1885.7" stroke="#000" stroke-width="2.4" stroke-opacity="0.12"/>
<line x1="973.3" y1="2041.9" x2="973.3" y2="2348.8" stroke="#000" stroke-width="2.4" stroke-opacity="0.12"/>
<line x1="1135.1" y1="1578.8" x2="1135.1" y2="1885.7" stroke="#000" stroke-width="2.4" stroke-opacity="0.12"/>
<line x1="1135.1" y1="2041.9" x2="1135.1" y2="2348.8" stroke="#000" stroke-width="2.4" stroke-opacity="0.12"/>
<line x1="140.2" y1="1848.3" x2="1201.3" y2="1848.3" stroke="#000" stroke-width="2.4" stroke-opacity="0.12"/>
<line x1="140.2" y1="1848.3" x2="1201.3" y2="1848.3" stroke="#777" stroke-width="1.4" stroke-dasharray="4.5,2.5"/>
<line x1="140.2" y1="2228.7" x2="1201.3" y2="2228.7" stroke="#000" stroke-width="2.4" stroke-opacity="0.12"/>
<line x1="140.2" y1="2228.7" x2="1201.3" y2="2228.7" stroke="#777" stroke-width="1.4" stroke-dasharray="4.5,2.5"/>
<path d="M164,1847 L165.5,1815.2 L170.2,1784.1 L178.7,1770.1 L180.3,1753 L185.7,1737.5 L189.6,1692.5 L215.2,1677 L229.2,1670.7 L240.1,1653.7 L257.1,1649.8 L264.1,1642.8 L264.1,1624.9 L271.1,1618 L272.7,1610.2 L283.5,1604.8 L297.5,1602.4 L316.1,1603.2 L362.7,1614.8 L370.5,1613.3 L420.2,1628.8 L420.2,1623.4 L424.8,1622.6 L424.8,1618 L450,1622.6 L459.3,1624.9 L526.1,1649.8 L541.6,1649.8 L558.7,1655.2 L561.8,1652.9 L580.4,1659.1 L648.8,1684.7 L750,1721.1 L779.5,1731.9 L784.2,1730.4 L821.4,1742.8 L833.9,1744.3 L868,1753.7 L995.3,1797.1 L1050,1812.7 L1084.2,1821 L1127.7,1829.7 L1176.1,1845.8" fill="none" stroke="#E64B35" stroke-width="4.0" stroke-linejoin="round"/>
<path d="M163.2,1847 L165.5,1818.3 L174.8,1812 L185.7,1805.8 L191.9,1765.5 L196.6,1742.2 L204.3,1736 L210.6,1714.2 L216.8,1708 L219.9,1692.5 L224.5,1685.5 L237.7,1683.2 L237.7,1677 L255.6,1678.5 L261.8,1659.9 L268,1652.1 L277.3,1647.5 L282,1646.7 L282,1640.5 L290.5,1637.4 L299.1,1630.4 L305.3,1628.8 L351.9,1644.3 L375.2,1649.8 L423.3,1663 L450,1667.6 L456.2,1666.1 L481.1,1674.6 L505.9,1680.8 L510.6,1679.3 L537,1688.6 L577.3,1701 L651.9,1729.8 L682.9,1740.6 L735.7,1758.5 L750,1759.2 L778,1765.3 L827.6,1783.2 L880.4,1803.4 L933.2,1818.9 L965.8,1820.4 L967.4,1815.8 L1050,1840.6 L1056.9,1840.9 L1091.7,1845.2 L1121.5,1844.6 L1146.3,1844 L1176.1,1845.8" fill="none" stroke="#4DBBD5" stroke-width="4.0" stroke-linejoin="round"/>
<path d="M162.4,1847 L163.2,1791.9 L164.8,1776.3 L165.5,1740.6 L168.6,1729.8 L177.2,1722 L178.7,1704.9 L180.3,1673.9 L183.4,1667.6 L190.4,1658.3 L203.6,1656 L203.6,1647.5 L205.9,1642.8 L206.7,1633.5 L219.9,1631.9 L240.1,1633.5 L270.3,1641.2 L271.1,1636.6 L277.3,1630.4 L283.5,1624.2 L290.5,1622.6 L305.3,1621.8 L320,1621.8 L320.8,1613.3 L349.5,1622.6 L351.9,1620.3 L368.9,1620.3 L423.3,1636.6 L423.3,1631.9 L450,1642 L490.4,1652.9 L493.5,1651.3 L561.8,1677 L682.9,1722 L686,1722 L720.2,1734.4 L750,1744 L826.1,1771.5 L829.2,1770.7 L858.7,1780.1 L896,1789.4 L905.3,1787 L914.6,1786.3 L930.1,1787 L992.2,1808 L993.8,1803.4 L1037.3,1817.3 L1051,1818.3 L1084.2,1826 L1089.2,1823.5 L1119,1830.9 L1143.9,1837.1 L1176.1,1845.8" fill="none" stroke="#00A087" stroke-width="4.0" stroke-linejoin="round"/>
<path d="M163.2,1847 L168.6,1841.6 L171.7,1830.7 L174.8,1812 L182.6,1799.6 L185.7,1751.5 L190.4,1739.1 L199.7,1732.9 L204.3,1726.6 L207.5,1720.4 L216.8,1714.2 L221.4,1706.5 L223,1695.6 L249.4,1688.6 L277.3,1684.7 L280.4,1678.5 L299.1,1677.7 L299.1,1672.3 L311.5,1670.7 L323.9,1644.3 L344.1,1645.9 L355,1644.3 L376.7,1649.8 L376.7,1644.3 L386,1642.8 L406.2,1648.2 L420.2,1645.1 L435.7,1648.2 L450,1652.9 L481.1,1659.1 L561.8,1692.5 L651.9,1728.2 L720.2,1746.8 L750,1755.7 L796.6,1772.3 L833.9,1780.8 L837,1779.3 L852.5,1782.4 L857.1,1779.3 L877.3,1781.6 L913,1792.5 L1029.5,1831.3 L1037.3,1825.9 L1050,1829.8 L1089.2,1837.1 L1096.6,1834.7 L1115.3,1835.3 L1126.5,1837.1 L1131.4,1829.1 L1143.9,1831.6 L1176.1,1845.8" fill="none" stroke="#3C5488" stroke-width="4.0" stroke-linejoin="round"/>
<path d="M163.2,1847 L171.7,1841.6 L177.2,1824.5 L181.1,1790.3 L190.4,1785.7 L198.1,1768.6 L204.3,1765.5 L207.5,1742.2 L216.8,1729.8 L224.5,1724.3 L231.5,1712.7 L232.3,1706.5 L240.1,1698.7 L241.6,1690.9 L258.7,1692.5 L259.5,1681.6 L271.1,1678.5 L277.3,1672.3 L285.1,1668.4 L305.3,1668.4 L320.8,1673.9 L362.7,1684.7 L364.3,1680.8 L381.4,1683.9 L387.6,1675.4 L404.7,1678.5 L406.2,1676.2 L440.4,1685.5 L450,1684 L456.2,1683.9 L478,1691.7 L523,1702.6 L537,1704.1 L577.3,1715.8 L658.1,1746.8 L698.4,1760.8 L740.4,1774.8 L750,1774.7 L779.5,1787 L781.1,1785.5 L788.8,1785.5 L824.5,1797.1 L837,1800.2 L878.9,1811.1 L880.4,1805.7 L889.8,1806.5 L933.2,1818.1 L936.3,1815.8 L944.1,1815.8 L995.3,1829 L998.4,1823.5 L1010.9,1822 L1050,1831.3 L1091.7,1840.9 L1116.5,1844 L1119,1832.2 L1142.6,1833.4 L1176.1,1845.2" fill="none" stroke="#F39B7F" stroke-width="4.0" stroke-linejoin="round"/>
<path d="M164,1847.8 L178,1840 L185.7,1827.6 L190.4,1793.4 L198.1,1754.6 L202.8,1748.4 L207.5,1725.1 L223,1721.2 L232.3,1713.4 L258.7,1717.3 L260.2,1708.8 L271.1,1704.9 L272.7,1698.7 L296,1700.2 L297.5,1687.8 L306.8,1678.5 L379.8,1697.9 L387.6,1690.9 L438.8,1702.6 L440.4,1697.9 L450,1699.1 L456.2,1698.7 L509,1715.8 L510.6,1713.4 L524.5,1717.3 L549.4,1722.8 L558.7,1723.5 L577.3,1729.8 L659.6,1759.3 L737.3,1788 L750,1791 L779.5,1801.8 L784.2,1801 L837,1814.2 L880.4,1825.1 L882,1820.4 L970.5,1843.7 L981.4,1842.2 L986,1837.5 L996.9,1835.2 L1009.3,1835.2 L1050,1849.9 L1094.2,1862 L1107.8,1858.3 L1116.5,1852 L1145.1,1853.9 L1176.1,1847.7 L1176.8,1845.2" fill="none" stroke="#8491B4" stroke-width="4.0" stroke-linejoin="round"/>
<path d="M161,1887.5H173V1911.5H161ZM177.4,1887.5H183V1911.5H177.4ZM183.9,1887.5H192.1V1911.5H183.9ZM202.4,1887.5H206.7V1911.5H202.4ZM214.4,1887.5H218.6V1911.5H214.4ZM227.9,1887.5H232.2V1911.5H227.9ZM234.1,1887.5H243.2V1911.5H234.1ZM256.4,1887.5H260.6V1911.5H256.4ZM261.9,1887.5H266.7V1911.5H261.9ZM268.4,1887.5H275.5V1911.5H268.4ZM280.7,1887.5H284.8V1911.5H280.7ZM294.7,1887.5H298.8V1911.5H294.7ZM314.3,1887.5H318.5V1911.5H314.3ZM360.3,1887.5H364.5V1911.5H360.3ZM370,1887.5H374.1V1911.5H370ZM417.9,1887.5H427.8V1911.5H417.9ZM439.1,1887.5H443.3V1911.5H439.1ZM459.3,1887.5H463.4V1911.5H459.3ZM524.9,1887.5H533V1911.5H524.9ZM535.2,1887.5H545.2V1911.5H535.2ZM557.2,1887.5H564.6V1911.5H557.2ZM576.2,1887.5H584.8V1911.5H576.2ZM601.2,1887.5H605.5V1911.5H601.2ZM608.6,1887.5H612.9V1911.5H608.6ZM648.2,1887.5H651.9V1911.5H648.2ZM653.9,1887.5H658.4V1911.5H653.9ZM661,1887.5H665.3V1911.5H661ZM705,1887.5H709.5V1911.5H705ZM778.8,1887.5H786.9V1911.5H778.8ZM819.8,1887.5H824.4V1911.5H819.8ZM832.7,1887.5H837.4V1911.5H832.7ZM864.8,1887.5H869.3V1911.5H864.8ZM992.9,1887.5H997V1911.5H992.9ZM1068.5,1887.5H1073.1V1911.5H1068.5ZM1147.2,1887.5H1151.6V1911.5H1147.2ZM1176,1887.5H1180.2V1911.5H1176Z" fill="#E64B35"/>
<path d="M161,1913.1H170.1V1937.2H161ZM177.2,1913.1H181.3V1937.2H177.2ZM183.4,1913.1H199.8V1937.2H183.4ZM201.8,1913.1H206.3V1937.2H201.8ZM208,1913.1H213.7V1937.2H208ZM216,1913.1H222.2V1937.2H216ZM222.7,1913.1H227V1937.2H222.7ZM236.1,1913.1H240.6V1937.2H236.1ZM253.5,1913.1H267.1V1937.2H253.5ZM268.4,1913.1H272.9V1937.2H268.4ZM278.4,1913.1H283.5V1937.2H278.4ZM287.2,1913.1H294.7V1937.2H287.2ZM296,1913.1H300.1V1937.2H296ZM302,1913.1H306.6V1937.2H302ZM358.3,1913.1H362.5V1937.2H358.3ZM368,1913.1H372.3V1937.2H368ZM374.5,1913.1H378.8V1937.2H374.5ZM403.2,1913.1H408V1937.2H403.2ZM428.2,1913.1H432.6V1937.2H428.2ZM443,1913.1H447.6V1937.2H443ZM449.8,1913.1H458.2V1937.2H449.8ZM475.1,1913.1H479.2V1937.2H475.1ZM490.8,1913.1H495.1V1937.2H490.8ZM502.2,1913.1H506.8V1937.2H502.2ZM508.4,1913.1H513.9V1937.2H508.4ZM524.9,1913.1H529.1V1937.2H524.9ZM535.2,1913.1H541.3V1937.2H535.2ZM548.2,1913.1H552.4V1937.2H548.2ZM576.6,1913.1H581.8V1937.2H576.6ZM584.4,1913.1H588.9V1937.2H584.4ZM596.7,1913.1H601.2V1937.2H596.7ZM603.4,1913.1H608.1V1937.2H603.4ZM624.9,1913.1H629.7V1937.2H624.9ZM646.5,1913.1H656.2V1937.2H646.5ZM686,1913.1H690.8V1937.2H686ZM692.7,1913.1H697.2V1937.2H692.7ZM700.2,1913.1H705V1937.2H700.2ZM725.3,1913.1H730V1937.2H725.3ZM732.8,1913.1H747V1937.2H732.8ZM749.6,1913.1H754.2V1937.2H749.6ZM769.7,1913.1H774.5V1937.2H769.7ZM775.5,1913.1H782.6V1937.2H775.5ZM877.1,1913.1H881.6V1937.2H877.1ZM912.9,1913.1H917.5V1937.2H912.9ZM932.3,1913.1H937.3V1937.2H932.3ZM942.4,1913.1H946.8V1937.2H942.4ZM960.2,1913.1H970.9V1937.2H960.2ZM1006.4,1913.1H1011V1937.2H1006.4ZM1054.6,1913.1H1059.2V1937.2H1054.6ZM1073.1,1913.1H1077.5V1937.2H1073.1ZM1093.1,1913.1H1097.7V1937.2H1093.1ZM1106.3,1913.1H1110.9V1937.2H1106.3ZM1122,1913.1H1126.7V1937.2H1122ZM1143,1913.1H1147.8V1937.2H1143ZM1164.2,1913.1H1168.7V1937.2H1164.2ZM1176,1913.1H1180.2V1937.2H1176Z" fill="#4DBBD5"/>
<path d="M161,1938.8H171.7V1963.1H161ZM174.3,1938.8H192.7V1963.1H174.3ZM200.7,1938.8H209.8V1963.1H200.7ZM218.6,1938.8H222.7V1963.1H218.6ZM239,1938.8H242.9V1963.1H239ZM268.8,1938.8H284.6V1963.1H268.8ZM287.4,1938.8H292.3V1963.1H287.4ZM305.9,1938.8H310.2V1963.1H305.9ZM317.2,1938.8H322.7V1963.1H317.2ZM347.3,1938.8H354.7V1963.1H347.3ZM358.6,1938.8H362.9V1963.1H358.6ZM368,1938.8H372.3V1963.1H368ZM393.3,1938.8H397.8V1963.1H393.3ZM420.4,1938.8H424.8V1963.1H420.4ZM446.3,1938.8H450.5V1963.1H446.3ZM459.8,1938.8H464.1V1963.1H459.8ZM476.1,1938.8H480.5V1963.1H476.1ZM489.3,1938.8H495.8V1963.1H489.3ZM511.9,1938.8H516.7V1963.1H511.9ZM560.2,1938.8H569.5V1963.1H560.2ZM577.3,1938.8H581.8V1963.1H577.3ZM596.7,1938.8H601.2V1963.1H596.7ZM623.2,1938.8H627.7V1963.1H623.2ZM636.2,1938.8H640.7V1963.1H636.2ZM670.1,1938.8H674.8V1963.1H670.1ZM681.1,1938.8H687.5V1963.1H681.1ZM707.6,1938.8H712.1V1963.1H707.6ZM717.9,1938.8H724.8V1963.1H717.9ZM732.6,1938.8H737V1963.1H732.6ZM746,1938.8H750.7V1963.1H746ZM824.7,1938.8H832.2V1963.1H824.7ZM850.3,1938.8H855.1V1963.1H850.3ZM868,1938.8H872.8V1963.1H868ZM892.2,1938.8H916.8V1963.1H892.2ZM922.3,1938.8H927.2V1963.1H922.3ZM928.7,1938.8H933.4V1963.1H928.7ZM990.6,1938.8H995.5V1963.1H990.6ZM1036.5,1938.8H1041V1963.1H1036.5ZM1052,1938.8H1056.6V1963.1H1052ZM1080.9,1938.8H1085.3V1963.1H1080.9ZM1087.4,1938.8H1091.8V1963.1H1087.4ZM1172.4,1938.8H1180.2V1963.1H1172.4Z" fill="#00A087"/>
<path d="M161.4,1964.7H165.3V1988.7H161.4ZM169.4,1964.7H175.6V1988.7H169.4ZM179.5,1964.7H192.7V1988.7H179.5ZM200.5,1964.7H208.5V1988.7H200.5ZM215.7,1964.7H224.8V1988.7H215.7ZM236.1,1964.7H240.3V1988.7H236.1ZM247.3,1964.7H251.6V1988.7H247.3ZM263.6,1964.7H267.8V1988.7H263.6ZM276.6,1964.7H283.5V1988.7H276.6ZM296.2,1964.7H300.8V1988.7H296.2ZM309.8,1964.7H327V1988.7H309.8ZM342.2,1964.7H346.4V1988.7H342.2ZM351.9,1964.7H356V1988.7H351.9ZM374.1,1964.7H378.8V1988.7H374.1ZM382.9,1964.7H387.1V1988.7H382.9ZM404.5,1964.7H409.1V1988.7H404.5ZM412.9,1964.7H417.1V1988.7H412.9ZM417.9,1964.7H422.3V1988.7H417.9ZM432.1,1964.7H436.2V1988.7H432.1ZM454.1,1964.7H458.2V1988.7H454.1ZM469.2,1964.7H473.1V1988.7H469.2ZM480.5,1964.7H484.8V1988.7H480.5ZM529.4,1964.7H533.3V1988.7H529.4ZM553.3,1964.7H557.6V1988.7H553.3ZM587.4,1964.7H591.8V1988.7H587.4ZM670.4,1964.7H674.8V1988.7H670.4ZM717,1964.7H721.2V1988.7H717ZM724.4,1964.7H728.7V1988.7H724.4ZM758,1964.7H762.3V1988.7H758ZM796,1964.7H800.1V1988.7H796ZM815.9,1964.7H820.5V1988.7H815.9ZM833.1,1964.7H840.9V1988.7H833.1ZM851.6,1964.7H863.8V1988.7H851.6ZM876.7,1964.7H881V1988.7H876.7ZM939.1,1964.7H943.7V1988.7H939.1ZM1026.2,1964.7H1030.4V1988.7H1026.2ZM1033.3,1964.7H1037.4V1988.7H1033.3ZM1087,1964.7H1091.3V1988.7H1087ZM1095.1,1964.7H1099.5V1988.7H1095.1ZM1123.1,1964.7H1127.5V1988.7H1123.1ZM1129.3,1964.7H1134V1988.7H1129.3ZM1176,1964.7H1180.2V1988.7H1176Z" fill="#3C5488"/>
<path d="M161.4,1990.3H165.3V2014.3H161.4ZM170.4,1990.3H183V2014.3H170.4ZM189.1,1990.3H198.9V2014.3H189.1ZM202,1990.3H218.8V2014.3H202ZM221.4,1990.3H226.6V2014.3H221.4ZM229.2,1990.3H234.4V2014.3H229.2ZM236.7,1990.3H244.5V2014.3H236.7ZM256.4,1990.3H262.3V2014.3H256.4ZM268.4,1990.3H275.3V2014.3H268.4ZM277.1,1990.3H284.8V2014.3H277.1ZM292.3,1990.3H296.9V2014.3H292.3ZM302.4,1990.3H306.8V2014.3H302.4ZM338.3,1990.3H342.8V2014.3H338.3ZM360.3,1990.3H366.1V2014.3H360.3ZM378,1990.3H382.3V2014.3H378ZM384,1990.3H391.3V2014.3H384ZM402.8,1990.3H409.1V2014.3H402.8ZM423,1990.3H427.8V2014.3H423ZM437.3,1990.3H443.3V2014.3H437.3ZM446.8,1990.3H451.5V2014.3H446.8ZM453.7,1990.3H458V2014.3H453.7ZM475.1,1990.3H484.1V2014.3H475.1ZM489.9,1990.3H494.2V2014.3H489.9ZM501.2,1990.3H505.8V2014.3H501.2ZM508,1990.3H512.6V2014.3H508ZM521.9,1990.3H529.1V2014.3H521.9ZM532,1990.3H539.1V2014.3H532ZM541,1990.3H545.2V2014.3H541ZM547.8,1990.3H552.4V2014.3H547.8ZM555.3,1990.3H559.8V2014.3H555.3ZM563.7,1990.3H568.2V2014.3H563.7ZM571.1,1990.3H580.5V2014.3H571.1ZM599.9,1990.3H604.2V2014.3H599.9ZM623.9,1990.3H629.7V2014.3H623.9ZM646.5,1990.3H651.3V2014.3H646.5ZM658,1990.3H665.3V2014.3H658ZM695.5,1990.3H700.2V2014.3H695.5ZM705,1990.3H709.5V2014.3H705ZM711.1,1990.3H716V2014.3H711.1ZM722.5,1990.3H727V2014.3H722.5ZM732.8,1990.3H737.7V2014.3H732.8ZM742.1,1990.3H746.8V2014.3H742.1ZM777.8,1990.3H791V2014.3H777.8ZM819.8,1990.3H824.4V2014.3H819.8ZM832.7,1990.3H837.4V2014.3H832.7ZM839.2,1990.3H843.8V2014.3H839.2ZM853.4,1990.3H858.1V2014.3H853.4ZM877.1,1990.3H884V2014.3H877.1ZM887.8,1990.3H892.2V2014.3H887.8ZM910.1,1990.3H914.9V2014.3H910.1ZM931.1,1990.3H938.6V2014.3H931.1ZM942.4,1990.3H946.8V2014.3H942.4ZM971.8,1990.3H976.3V2014.3H971.8ZM992.9,1990.3H1004.2V2014.3H992.9ZM1008,1990.3H1012.6V2014.3H1008ZM1033.5,1990.3H1038.2V2014.3H1033.5ZM1059.2,1990.3H1064.1V2014.3H1059.2ZM1093.1,1990.3H1097.7V2014.3H1093.1ZM1113.8,1990.3H1124.2V2014.3H1113.8ZM1143,1990.3H1147.8V2014.3H1143ZM1176,1990.3H1180.2V2014.3H1176Z" fill="#F39B7F"/>
<path d="M161.4,2015.9H165.3V2040.1H161.4ZM176.1,2015.9H180.4V2040.1H176.1ZM183.4,2015.9H200.2V2040.1H183.4ZM202.4,2015.9H210.2V2040.1H202.4ZM222.7,2015.9H227V2040.1H222.7ZM230.2,2015.9H234.1V2040.1H230.2ZM257.1,2015.9H262.3V2040.1H257.1ZM268.4,2015.9H275.5V2040.1H268.4ZM292.6,2015.9H298.6V2040.1H292.6ZM302.7,2015.9H309.4V2040.1H302.7ZM337.9,2015.9H342.2V2040.1H337.9ZM378.4,2015.9H382.3V2040.1H378.4ZM384.2,2015.9H390V2040.1H384.2ZM403.2,2015.9H407.5V2040.1H403.2ZM423,2015.9H427.8V2040.1H423ZM437.3,2015.9H443.3V2040.1H437.3ZM446.8,2015.9H451.5V2040.1H446.8ZM453.7,2015.9H458V2040.1H453.7ZM475.1,2015.9H479.2V2040.1H475.1ZM508,2015.9H513.2V2040.1H508ZM521.9,2015.9H529.1V2040.1H521.9ZM535.2,2015.9H539.5V2040.1H535.2ZM547.8,2015.9H559.8V2040.1H547.8ZM571.1,2015.9H580.5V2040.1H571.1ZM596.4,2015.9H600.8V2040.1H596.4ZM623.9,2015.9H629.7V2040.1H623.9ZM658,2015.9H662.9V2040.1H658ZM667.9,2015.9H672.3V2040.1H667.9ZM711.1,2015.9H715.7V2040.1H711.1ZM732.8,2015.9H737.7V2040.1H732.8ZM742.1,2015.9H746.8V2040.1H742.1ZM778.1,2015.9H786.9V2040.1H778.1ZM795.2,2015.9H799.8V2040.1H795.2ZM819.8,2015.9H824.4V2040.1H819.8ZM839.2,2015.9H843.8V2040.1H839.2ZM853.4,2015.9H858.1V2040.1H853.4ZM879.3,2015.9H884V2040.1H879.3ZM910.1,2015.9H914.5V2040.1H910.1ZM942.4,2015.9H946.8V2040.1H942.4ZM971.2,2015.9H975.3V2040.1H971.2ZM979.6,2015.9H988.3V2040.1H979.6ZM992.9,2015.9H997V2040.1H992.9ZM1008,2015.9H1012.8V2040.1H1008ZM1093.1,2015.9H1097.7V2040.1H1093.1ZM1106.3,2015.9H1110.9V2040.1H1106.3ZM1114.3,2015.9H1118.9V2040.1H1114.3ZM1143,2015.9H1147.8V2040.1H1143ZM1176,2015.9H1180.2V2040.1H1176Z" fill="#8491B4"/>
<line x1="140.2" y1="1886.7" x2="1201.3" y2="1886.7" stroke="#000" stroke-width="2.6" />
<line x1="140.2" y1="1912.3" x2="1201.3" y2="1912.3" stroke="#000" stroke-width="2.6" />
<line x1="140.2" y1="1938" x2="1201.3" y2="1938" stroke="#000" stroke-width="2.6" />
<line x1="140.2" y1="1963.9" x2="1201.3" y2="1963.9" stroke="#000" stroke-width="2.6" />
<line x1="140.2" y1="1989.5" x2="1201.3" y2="1989.5" stroke="#000" stroke-width="2.6" />
<line x1="140.2" y1="2015.1" x2="1201.3" y2="2015.1" stroke="#000" stroke-width="2.6" />
<line x1="140.2" y1="2040.9" x2="1201.3" y2="2040.9" stroke="#000" stroke-width="2.6" />
<line x1="139.1" y1="2350.2" x2="1202.4" y2="2350.2" stroke="#000" stroke-width="3.0" />
<rect x="140.2" y="1577.8" width="1061.1" height="772" fill="none" stroke="#000" stroke-width="2.2"/>
<line x1="140.6" y1="1603.3" x2="140.6" y2="1863.9" stroke="#000" stroke-width="2.6" />
<line x1="126.2" y1="1604.4" x2="140.6" y2="1604.4" stroke="#000" stroke-width="2.2" />
<line x1="126.2" y1="1609.9" x2="140.6" y2="1609.9" stroke="#000" stroke-width="2.2" />
<line x1="126.2" y1="1650.3" x2="140.6" y2="1650.3" stroke="#000" stroke-width="2.2" />
<line x1="126.2" y1="1690.1" x2="140.6" y2="1690.1" stroke="#000" stroke-width="2.2" />
<line x1="126.2" y1="1729.6" x2="140.6" y2="1729.6" stroke="#000" stroke-width="2.2" />
<line x1="126.2" y1="1769.3" x2="140.6" y2="1769.3" stroke="#000" stroke-width="2.2" />
<line x1="126.2" y1="1808.8" x2="140.6" y2="1808.8" stroke="#000" stroke-width="2.2" />
<line x1="126.2" y1="1848.3" x2="140.6" y2="1848.3" stroke="#000" stroke-width="2.2" />
<line x1="126.2" y1="1862.8" x2="140.6" y2="1862.8" stroke="#000" stroke-width="2.2" />
<text x="113.6" y="1622.4" font-size="36" text-anchor="end" font-family="'Liberation Sans', Arial, Helvetica, sans-serif" stroke="#000" stroke-width="0.7" >0.6</text>
<text x="113.6" y="1662.8" font-size="36" text-anchor="end" font-family="'Liberation Sans', Arial, Helvetica, sans-serif" stroke="#000" stroke-width="0.7" >0.5</text>
<text x="113.6" y="1702.6" font-size="36" text-anchor="end" font-family="'Liberation Sans', Arial, Helvetica, sans-serif" stroke="#000" stroke-width="0.7" >0.4</text>
<text x="113.6" y="1742.1" font-size="36" text-anchor="end" font-family="'Liberation Sans', Arial, Helvetica, sans-serif" stroke="#000" stroke-width="0.7" >0.3</text>
<text x="113.6" y="1781.8" font-size="36" text-anchor="end" font-family="'Liberation Sans', Arial, Helvetica, sans-serif" stroke="#000" stroke-width="0.7" >0.2</text>
<text x="113.6" y="1821.3" font-size="36" text-anchor="end" font-family="'Liberation Sans', Arial, Helvetica, sans-serif" stroke="#000" stroke-width="0.7" >0.1</text>
<text x="113.6" y="1860.8" font-size="36" text-anchor="end" font-family="'Liberation Sans', Arial, Helvetica, sans-serif" stroke="#000" stroke-width="0.7" >0.0</text>
<line x1="140.6" y1="2066.2" x2="140.6" y2="2327.2" stroke="#000" stroke-width="2.6" />
<line x1="126.2" y1="2067.3" x2="140.6" y2="2067.3" stroke="#000" stroke-width="2.2" />
<line x1="126.2" y1="2095.4" x2="140.6" y2="2095.4" stroke="#000" stroke-width="2.2" />
<line x1="126.2" y1="2162.7" x2="140.6" y2="2162.7" stroke="#000" stroke-width="2.2" />
<line x1="126.2" y1="2229.7" x2="140.6" y2="2229.7" stroke="#000" stroke-width="2.2" />
<line x1="126.2" y1="2297" x2="140.6" y2="2297" stroke="#000" stroke-width="2.2" />
<line x1="126.2" y1="2326.1" x2="140.6" y2="2326.1" stroke="#000" stroke-width="2.2" />
<text x="113.6" y="2107.9" font-size="36" text-anchor="end" font-family="'Liberation Sans', Arial, Helvetica, sans-serif" stroke="#000" stroke-width="0.7" >1.0</text>
<text x="113.6" y="2175.2" font-size="36" text-anchor="end" font-family="'Liberation Sans', Arial, Helvetica, sans-serif" stroke="#000" stroke-width="0.7" >0.5</text>
<text x="113.6" y="2242.2" font-size="36" text-anchor="end" font-family="'Liberation Sans', Arial, Helvetica, sans-serif" stroke="#000" stroke-width="0.7" >0.0</text>
<text x="113.6" y="2309.5" font-size="36" text-anchor="end" font-family="'Liberation Sans', Arial, Helvetica, sans-serif" stroke="#000" stroke-width="0.7" >-0.5</text>
<text x="176" y="2091.9" font-size="30.5" text-anchor="start" font-family="'Liberation Serif', 'Times New Roman', serif"  >H</text>
<text x="1147.5" y="2324.5" font-size="30.5" text-anchor="start" font-family="'Liberation Serif', 'Times New Roman', serif"  >L</text>
<line x1="164.3" y1="2349.8" x2="164.3" y2="2364.8" stroke="#000" stroke-width="2.2" />
<line x1="326.1" y1="2349.8" x2="326.1" y2="2364.8" stroke="#000" stroke-width="2.2" />
<line x1="487.9" y1="2349.8" x2="487.9" y2="2364.8" stroke="#000" stroke-width="2.2" />
<line x1="649.7" y1="2349.8" x2="649.7" y2="2364.8" stroke="#000" stroke-width="2.2" />
<line x1="811.5" y1="2349.8" x2="811.5" y2="2364.8" stroke="#000" stroke-width="2.2" />
<line x1="973.3" y1="2349.8" x2="973.3" y2="2364.8" stroke="#000" stroke-width="2.2" />
<line x1="1135.1" y1="2349.8" x2="1135.1" y2="2364.8" stroke="#000" stroke-width="2.2" />
<line x1="1179.2" y1="2349.8" x2="1179.2" y2="2364.8" stroke="#000" stroke-width="2.2" />
<text x="164.3" y="2399.5" font-size="35.7" text-anchor="middle" font-family="'Liberation Sans', Arial, Helvetica, sans-serif" stroke="#000" stroke-width="0.7" >0</text>
<text x="326.1" y="2399.5" font-size="35.7" text-anchor="middle" font-family="'Liberation Sans', Arial, Helvetica, sans-serif" stroke="#000" stroke-width="0.7" >2000</text>
<text x="487.9" y="2399.5" font-size="35.7" text-anchor="middle" font-family="'Liberation Sans', Arial, Helvetica, sans-serif" stroke="#000" stroke-width="0.7" >4000</text>
<text x="649.7" y="2399.5" font-size="35.7" text-anchor="middle" font-family="'Liberation Sans', Arial, Helvetica, sans-serif" stroke="#000" stroke-width="0.7" >6000</text>
<text x="811.5" y="2399.5" font-size="35.7" text-anchor="middle" font-family="'Liberation Sans', Arial, Helvetica, sans-serif" stroke="#000" stroke-width="0.7" >8000</text>
<text x="973.3" y="2399.5" font-size="35.7" text-anchor="middle" font-family="'Liberation Sans', Arial, Helvetica, sans-serif" stroke="#000" stroke-width="0.7" >10000</text>
<text x="1135.1" y="2399.5" font-size="35.7" text-anchor="middle" font-family="'Liberation Sans', Arial, Helvetica, sans-serif" stroke="#000" stroke-width="0.7" >12000</text>
<text x="670.6" y="2439" font-size="36" text-anchor="middle" font-family="'Liberation Sans', Arial, Helvetica, sans-serif" stroke="#000" stroke-width="0.7" >Rank in Ordered DataSet</text>
<text x="668.2" y="2478.2" font-size="36" text-anchor="middle" font-family="'Liberation Sans', Arial, Helvetica, sans-serif" stroke="#000" stroke-width="0.7" >FN1 OF GSE96804</text>
<text x="0" y="0" font-size="36.3" text-anchor="middle" font-family="'Liberation Sans', Arial, Helvetica, sans-serif" stroke="#000" stroke-width="0.7" transform="translate(42.8,1725.5) rotate(-90)">Enrichment score</text>
<text x="0" y="0" font-size="36.3" text-anchor="middle" font-family="'Liberation Sans', Arial, Helvetica, sans-serif" stroke="#000" stroke-width="0.7" transform="translate(43.4,2199) rotate(-90)">Ranked list metric</text>
<path d="M181,1576.8h14M265,1576.8h14M419,1576.8h14M582,1576.8h14" stroke="#000" stroke-width="1.6"/>
<text x="1300" y="1299.2" font-size="56" text-anchor="start" font-family="'Liberation Sans', Arial, Helvetica, sans-serif" stroke="#000" stroke-width="0.7" >D</text>
<line x1="1401.4" y1="1334.1" x2="1416.6" y2="1334.1" stroke="#E64B35" stroke-width="5" />
<text x="0" y="0" font-size="31.6" font-family="'Liberation Sans', Arial, Helvetica, sans-serif" stroke="#000" stroke-width="0.7" transform="translate(1422.89,1346.20) scale(1.0039,1)">NOD LIKE RECEPTOR SIGNALING PATHWAY (ES=0.4995, NP=0.0162)</text>
<line x1="1401.4" y1="1383" x2="1416.6" y2="1383" stroke="#4DBBD5" stroke-width="5" />
<text x="0" y="0" font-size="31.6" font-family="'Liberation Sans', Arial, Helvetica, sans-serif" stroke="#000" stroke-width="0.7" transform="translate(1421.60,1395.80) scale(1.0000,1)">MATURITY ONSET DIABETES OF THE YOUNG (ES=-0.6315, NP=0.0122)</text>
<line x1="1401.4" y1="1431.9" x2="1416.6" y2="1431.9" stroke="#00A087" stroke-width="5" />
<text x="0" y="0" font-size="31.6" font-family="'Liberation Sans', Arial, Helvetica, sans-serif" stroke="#000" stroke-width="0.7" transform="translate(1424.01,1445.40) scale(0.9931,1)">TYPE II DIABETES MELLITUS (ES=-0.4653,NP=0.0120)</text>
<line x1="1401.4" y1="1480.8" x2="1416.6" y2="1480.8" stroke="#3C5488" stroke-width="5" />
<text x="0" y="0" font-size="31.6" font-family="'Liberation Sans', Arial, Helvetica, sans-serif" stroke="#000" stroke-width="0.7" transform="translate(1425.31,1495.00) scale(0.9975,1)">GLYCOSPHINGOLIPID BIOSYNTHESIS LACTO (ES=-0.5794, NP=0.0003)</text>
<line x1="1401.5" y1="1555.4" x2="2411.4" y2="1555.4" stroke="#000" stroke-width="2.4" stroke-opacity="0.12"/>
<line x1="1401.5" y1="1608.4" x2="2411.4" y2="1608.4" stroke="#000" stroke-width="2.4" stroke-opacity="0.12"/>
<line x1="1401.5" y1="1713.9" x2="2411.4" y2="1713.9" stroke="#000" stroke-width="2.4" stroke-opacity="0.12"/>
<line x1="1401.5" y1="1767" x2="2411.4" y2="1767" stroke="#000" stroke-width="2.4" stroke-opacity="0.12"/>
<line x1="1401.5" y1="2068.7" x2="2411.4" y2="2068.7" stroke="#000" stroke-width="2.4" stroke-opacity="0.12"/>
<line x1="1401.5" y1="2140.9" x2="2411.4" y2="2140.9" stroke="#000" stroke-width="2.4" stroke-opacity="0.12"/>
<line x1="1401.5" y1="2285.5" x2="2411.4" y2="2285.5" stroke="#000" stroke-width="2.4" stroke-opacity="0.12"/>
<path d="M1421.0,2211.5 L1421.0,2035.5 L1421.0,2035.5 L1425.6,2035.5 L1425.8,2097.6 L1425.9,2099.3 L1426.1,2101.8 L1426.3,2104.6 L1426.5,2107.7 L1426.8,2110.6 L1427.2,2113.2 L1427.7,2115.5 L1428.2,2117.8 L1428.9,2120.0 L1429.5,2122.0 L1430.3,2123.9 L1431.1,2125.6 L1432.0,2127.0 L1432.9,2128.1 L1433.9,2129.0 L1434.9,2129.8 L1436.1,2130.7 L1437.3,2131.8 L1438.6,2133.0 L1439.9,2134.2 L1441.4,2135.5 L1442.9,2136.8 L1444.7,2138.2 L1446.6,2139.6 L1448.8,2141.1 L1451.3,2142.8 L1454.0,2144.4 L1456.7,2146.1 L1459.4,2147.6 L1462.1,2148.9 L1464.7,2149.9 L1467.3,2150.8 L1469.8,2151.5 L1472.4,2152.2 L1475.0,2152.8 L1477.6,2153.5 L1480.0,2154.2 L1482.2,2154.8 L1484.4,2155.3 L1486.9,2156.0 L1489.7,2156.6 L1493.2,2157.4 L1497.5,2158.3 L1502.4,2159.3 L1507.7,2160.4 L1513.3,2161.5 L1518.8,2162.6 L1524.2,2163.6 L1529.4,2164.6 L1534.6,2165.5 L1539.7,2166.5 L1544.9,2167.4 L1550.1,2168.3 L1555.3,2169.1 L1560.3,2169.8 L1565.1,2170.4 L1569.8,2171.0 L1574.8,2171.5 L1580.2,2172.2 L1586.3,2173.0 L1592.9,2174.0 L1599.9,2175.1 L1607.3,2176.3 L1615.3,2177.6 L1623.8,2178.8 L1632.9,2180.0 L1643.3,2181.2 L1654.9,2182.4 L1667.2,2183.7 L1679.2,2184.8 L1690.4,2185.9 L1700.0,2186.9 L1707.2,2187.6 L1712.4,2188.1 L1716.8,2188.5 L1721.3,2189.0 L1727.1,2189.6 L1735.3,2190.5 L1746.4,2191.8 L1759.7,2193.4 L1774.3,2195.2 L1789.2,2197.1 L1803.5,2198.8 L1816.2,2200.3 L1827.6,2201.6 L1838.4,2202.7 L1848.6,2203.7 L1858.2,2204.7 L1867.0,2205.7 L1875.0,2206.6 L1880.4,2207.3 L1883.0,2207.8 L1884.8,2208.2 L1888.0,2208.8 L1894.9,2209.9 L1907.4,2211.8 L1926.8,2214.6 L1951.6,2218.2 L1979.9,2222.3 L2010.0,2226.6 L2040.2,2230.8 L2068.5,2234.7 L2096.1,2238.4 L2124.5,2242.1 L2153.0,2245.7 L2180.6,2249.2 L2206.4,2252.6 L2229.6,2255.7 L2250.0,2258.5 L2268.4,2261.2 L2284.9,2263.6 L2300.1,2265.9 L2314.3,2268.1 L2327.9,2270.3 L2340.8,2272.4 L2352.9,2274.5 L2363.9,2276.5 L2373.8,2278.3 L2382.6,2280.0 L2390.0,2281.6 L2395.7,2282.9 L2399.6,2283.9 L2402.3,2284.8 L2404.3,2285.8 L2406.3,2286.8 L2408.8,2288.1 L2411.8,2289.6 L2414.8,2291.2 L2417.7,2292.9 L2420.5,2294.9 L2422.9,2297.0 L2425.0,2299.4 L2426.6,2302.3 L2427.9,2305.8 L2428.8,2309.4 L2429.6,2313.0 L2430.2,2316.3 L2430.8,2318.8 L2431.3,2320.6 L2431.6,2322.0 L2431.8,2322.9 L2431.9,2323.6 L2432.0,2324.1 L2432.1,2324.6 L2435.7,2324.6 L2435.7,2211.5 Z" fill="#CCCCCC"/>
<line x1="1424.5" y1="1503.6" x2="1424.5" y2="1840.4" stroke="#000" stroke-width="2.4" stroke-opacity="0.12"/>
<line x1="1424.5" y1="2011.6" x2="1424.5" y2="2348.8" stroke="#000" stroke-width="2.4" stroke-opacity="0.12"/>
<line x1="1585.4" y1="1503.6" x2="1585.4" y2="1840.4" stroke="#000" stroke-width="2.4" stroke-opacity="0.12"/>
<line x1="1585.4" y1="2011.6" x2="1585.4" y2="2348.8" stroke="#000" stroke-width="2.4" stroke-opacity="0.12"/>
<line x1="1746.3" y1="1503.6" x2="1746.3" y2="1840.4" stroke="#000" stroke-width="2.4" stroke-opacity="0.12"/>
<line x1="1746.3" y1="2011.6" x2="1746.3" y2="2348.8" stroke="#000" stroke-width="2.4" stroke-opacity="0.12"/>
<line x1="1907.3" y1="1503.6" x2="1907.3" y2="1840.4" stroke="#000" stroke-width="2.4" stroke-opacity="0.12"/>
<line x1="1907.3" y1="2011.6" x2="1907.3" y2="2348.8" stroke="#000" stroke-width="2.4" stroke-opacity="0.12"/>
<line x1="2068.2" y1="1503.6" x2="2068.2" y2="1840.4" stroke="#000" stroke-width="2.4" stroke-opacity="0.12"/>
<line x1="2068.2" y1="2011.6" x2="2068.2" y2="2348.8" stroke="#000" stroke-width="2.4" stroke-opacity="0.12"/>
<line x1="2229.1" y1="1503.6" x2="2229.1" y2="1840.4" stroke="#000" stroke-width="2.4" stroke-opacity="0.12"/>
<line x1="2229.1" y1="2011.6" x2="2229.1" y2="2348.8" stroke="#000" stroke-width="2.4" stroke-opacity="0.12"/>
<line x1="2390" y1="1503.6" x2="2390" y2="1840.4" stroke="#000" stroke-width="2.4" stroke-opacity="0.12"/>
<line x1="2390" y1="2011.6" x2="2390" y2="2348.8" stroke="#000" stroke-width="2.4" stroke-opacity="0.12"/>
<line x1="1401.5" y1="1660.5" x2="2455.9" y2="1660.5" stroke="#000" stroke-width="2.4" stroke-opacity="0.12"/>
<line x1="1401.5" y1="1660.5" x2="2455.9" y2="1660.5" stroke="#777" stroke-width="1.4" stroke-dasharray="4.5,2.5"/>
<line x1="1401.5" y1="2211.5" x2="2455.9" y2="2211.5" stroke="#000" stroke-width="2.4" stroke-opacity="0.12"/>
<line x1="1401.5" y1="2211.5" x2="2455.9" y2="2211.5" stroke="#777" stroke-width="1.4" stroke-dasharray="4.5,2.5"/>
<path d="M1423.5,1659.4 L1422.9,1625.7 L1426.2,1598.8 L1432.9,1566.5 L1442.3,1559.8 L1453.1,1546.3 L1474.6,1545.5 L1488.1,1542.3 L1498.8,1540.1 L1508.3,1530.2 L1520.4,1528.3 L1568.8,1536.9 L1579.6,1530.7 L1620,1534.2 L1628,1532.9 L1633.4,1527.5 L1708.8,1542.3 L1711.5,1537.5 L1751.9,1545.5 L1781.5,1550.4 L1784.2,1549 L1821.8,1559.8 L1824.5,1558.5 L1838,1560.6 L1930,1584.7 L1971.2,1594.5 L1982.1,1596.4 L2017.8,1603.8 L2028.8,1603.8 L2031.5,1602.7 L2056.2,1607.4 L2075.4,1609.3 L2075.4,1606.6 L2091.9,1605.5 L2105.6,1606 L2130.3,1609.3 L2270.2,1640.3 L2272.9,1635.7 L2401.9,1661.4 L2421.1,1659" fill="none" stroke="#E64B35" stroke-width="4.0" stroke-linejoin="round"/>
<path d="M1423.5,1660.2 L1646.9,1711.9 L1706.1,1722.7 L1808.4,1749.6 L1930,1777.2 L2012.3,1796.7 L2149.5,1816.7 L2189.3,1816.7 L2189.3,1807.1 L2240,1807.7 L2277.1,1805.7 L2281.2,1780.2 L2344.3,1767.1 L2355.2,1752.8 L2377.2,1741.8 L2379.9,1724 L2385.4,1702 L2388.2,1687 L2407.4,1676 L2426.6,1659.5" fill="none" stroke="#4DBBD5" stroke-width="4.0" stroke-linejoin="round"/>
<path d="M1423.5,1659.4 L1453.1,1656.7 L1498.8,1661.3 L1504.2,1654.5 L1531.1,1659.4 L1700.7,1698.4 L1708.8,1693.8 L1765.3,1703.8 L1794.9,1707.8 L1827.2,1714.6 L1930,1739.6 L1960.2,1746.5 L1979.4,1750.1 L2031.5,1761 L2037,1759.1 L2091.9,1770.1 L2116.6,1769.3 L2127.5,1765.7 L2187.9,1776.7 L2193.4,1772 L2201.6,1768.7 L2245.5,1773.4 L2259.2,1769.3 L2262,1755.5 L2300.4,1758.3 L2316.8,1754.2 L2344.3,1752.8 L2355.2,1744.6 L2371.7,1722.6 L2385.4,1685.6 L2401.9,1678.7 L2426.6,1671.3 L2427.1,1660.9" fill="none" stroke="#00A087" stroke-width="4.0" stroke-linejoin="round"/>
<path d="M1423.5,1660.2 L1593,1694.4 L1706.1,1721.3 L1808.4,1746.9 L1816.5,1746.3 L1930,1772.9 L2037,1794 L2064.4,1794 L2083.6,1791.8 L2149.5,1798.9 L2204.3,1800.3 L2240,1783 L2289.4,1751.4 L2297.6,1736.3 L2316.8,1724 L2338.8,1713 L2349.8,1697.9 L2363.5,1669.1 L2369,1641.7 L2432.1,1659.5" fill="none" stroke="#3C5488" stroke-width="4.0" stroke-linejoin="round"/>
<path d="M1421.3,1842.2H1435.8V1882.9H1421.3ZM1439.3,1842.2H1444.1V1882.9H1439.3ZM1445.1,1842.2H1449.1V1882.9H1445.1ZM1450.9,1842.2H1454.9V1882.9H1450.9ZM1472.3,1842.2H1477V1882.9H1472.3ZM1484.2,1842.2H1489V1882.9H1484.2ZM1497.2,1842.2H1510V1882.9H1497.2ZM1518,1842.2H1522.3V1882.9H1518ZM1565.8,1842.2H1570.1V1882.9H1565.8ZM1571.2,1842.2H1575.2V1882.9H1571.2ZM1577,1842.2H1581V1882.9H1577ZM1597.2,1842.2H1601.6V1882.9H1597.2ZM1618.7,1842.2H1623V1882.9H1618.7ZM1625.9,1842.2H1635.8V1882.9H1625.9ZM1675.5,1842.2H1679.9V1882.9H1675.5ZM1707.7,1842.2H1714.6V1882.9H1707.7ZM1749.1,1842.2H1753.8V1882.9H1749.1ZM1762.5,1842.2H1767.1V1882.9H1762.5ZM1780.1,1842.2H1784.9V1882.9H1780.1ZM1821.2,1842.2H1826.5V1882.9H1821.2ZM1828.8,1842.2H1833.5V1882.9H1828.8ZM1834.9,1842.2H1839.6V1882.9H1834.9ZM1900.9,1842.2H1905.2V1882.9H1900.9ZM1970,1842.2H1973.2V1882.9H1970ZM1982.3,1842.2H1986.7V1882.9H1982.3ZM2016.1,1842.2H2020.4V1882.9H2016.1ZM2025.4,1842.2H2029.4V1882.9H2025.4ZM2030.1,1842.2H2034.5V1882.9H2030.1ZM2054.8,1842.2H2059.1V1882.9H2054.8ZM2072.2,1842.2H2077V1882.9H2072.2ZM2081.3,1842.2H2085.7V1882.9H2081.3ZM2089.6,1842.2H2093.9V1882.9H2089.6ZM2104.1,1842.2H2108.4V1882.9H2104.1ZM2128.7,1842.2H2133V1882.9H2128.7ZM2267.3,1842.2H2275.4V1882.9H2267.3ZM2400.5,1842.2H2405.2V1882.9H2400.5ZM2426.1,1842.2H2430.4V1882.9H2426.1ZM2431.7,1842.2H2435.8V1882.9H2431.7Z" fill="#E64B35"/>
<path d="M1421.6,1884.5H1425.7V1925.2H1421.6ZM1644.8,1884.5H1648.8V1925.2H1644.8ZM1713.9,1884.5H1718.3V1925.2H1713.9ZM1859.6,1884.5H1863.9V1925.2H1859.6ZM1880.6,1884.5H1884.9V1925.2H1880.6ZM2014.2,1884.5H2018.6V1925.2H2014.2ZM2070.3,1884.5H2074.6V1925.2H2070.3ZM2147.1,1884.5H2151.4V1925.2H2147.1ZM2187.1,1884.5H2191.4V1925.2H2187.1ZM2236.1,1884.5H2240.7V1925.2H2236.1ZM2276,1884.5H2284.8V1925.2H2276ZM2309,1884.5H2313.7V1925.2H2309ZM2342.9,1884.5H2347.8V1925.2H2342.9ZM2352.3,1884.5H2356.8V1925.2H2352.3ZM2374.7,1884.5H2381V1925.2H2374.7ZM2382.7,1884.5H2388.7V1925.2H2382.7ZM2403.2,1884.5H2407.9V1925.2H2403.2ZM2425,1884.5H2429.8V1925.2H2425ZM2431.5,1884.5H2435.8V1925.2H2431.5Z" fill="#4DBBD5"/>
<path d="M1421.6,1926.8H1425.7V1967.6H1421.6ZM1450.6,1926.8H1454.9V1967.6H1450.6ZM1497.2,1926.8H1501.6V1967.6H1497.2ZM1502.8,1926.8H1506.8V1967.6H1502.8ZM1629.6,1926.8H1633.9V1967.6H1629.6ZM1699.4,1926.8H1710V1967.6H1699.4ZM1733.2,1926.8H1737.5V1967.6H1733.2ZM1765.1,1926.8H1769.4V1967.6H1765.1ZM1780.1,1926.8H1784.9V1967.6H1780.1ZM1792.9,1926.8H1797.2V1967.6H1792.9ZM1817.8,1926.8H1822.2V1967.6H1817.8ZM1827.7,1926.8H1832V1967.6H1827.7ZM1849.4,1926.8H1854.1V1967.6H1849.4ZM1957.4,1926.8H1961.7V1967.6H1957.4ZM1974.1,1926.8H1978.4V1967.6H1974.1ZM2030.1,1926.8H2038.8V1967.6H2030.1ZM2089.1,1926.8H2093.9V1967.6H2089.1ZM2104.1,1926.8H2108.4V1967.6H2104.1ZM2116.4,1926.8H2120.7V1967.6H2116.4ZM2123.6,1926.8H2128V1967.6H2123.6ZM2187.4,1926.8H2194.9V1967.6H2187.4ZM2199,1926.8H2203.4V1967.6H2199ZM2242,1926.8H2246.8V1967.6H2242ZM2258.9,1926.8H2265.7V1967.6H2258.9ZM2299.3,1926.8H2303.9V1967.6H2299.3ZM2315.5,1926.8H2320V1967.6H2315.5ZM2342.9,1926.8H2347.8V1967.6H2342.9ZM2350.5,1926.8H2358.8V1967.6H2350.5ZM2361.5,1926.8H2366.3V1967.6H2361.5ZM2370.6,1926.8H2381V1967.6H2370.6ZM2381.7,1926.8H2388.7V1967.6H2381.7ZM2400.8,1926.8H2405.2V1967.6H2400.8ZM2425,1926.8H2435.8V1967.6H2425Z" fill="#00A087"/>
<path d="M1421.6,1969.2H1425.7V2009.8H1421.6ZM1594.8,1969.2H1599.1V2009.8H1594.8ZM1804.5,1969.2H1809.1V2009.8H1804.5ZM1814.9,1969.2H1819V2009.8H1814.9ZM1869,1969.2H1873.3V2009.8H1869ZM1906.7,1969.2H1911V2009.8H1906.7ZM1953.8,1969.2H1958.1V2009.8H1953.8ZM2035.2,1969.2H2039.9V2009.8H2035.2ZM2061,1969.2H2065.4V2009.8H2061ZM2082.3,1969.2H2086.7V2009.8H2082.3ZM2149,1969.2H2153.3V2009.8H2149ZM2202.4,1969.2H2207V2009.8H2202.4ZM2218.6,1969.2H2223.3V2009.8H2218.6ZM2236.6,1969.2H2241V2009.8H2236.6ZM2254.1,1969.2H2258.5V2009.8H2254.1ZM2271.3,1969.2H2276V2009.8H2271.3ZM2289.9,1969.2H2294.5V2009.8H2289.9ZM2296.6,1969.2H2300.9V2009.8H2296.6ZM2312,1969.2H2316.5V2009.8H2312ZM2337.5,1969.2H2342V2009.8H2337.5ZM2348.7,1969.2H2353.1V2009.8H2348.7ZM2356.1,1969.2H2360.4V2009.8H2356.1ZM2362.8,1969.2H2372V2009.8H2362.8ZM2431.5,1969.2H2435.8V2009.8H2431.5Z" fill="#3C5488"/>
<line x1="1401.5" y1="1841.4" x2="2455.9" y2="1841.4" stroke="#000" stroke-width="2.6" />
<line x1="1401.5" y1="1883.7" x2="2455.9" y2="1883.7" stroke="#000" stroke-width="2.6" />
<line x1="1401.5" y1="1926" x2="2455.9" y2="1926" stroke="#000" stroke-width="2.6" />
<line x1="1401.5" y1="1968.4" x2="2455.9" y2="1968.4" stroke="#000" stroke-width="2.6" />
<line x1="1401.5" y1="2010.6" x2="2455.9" y2="2010.6" stroke="#000" stroke-width="2.6" />
<line x1="1400.4" y1="2350.2" x2="2457" y2="2350.2" stroke="#000" stroke-width="3.0" />
<rect x="1401.5" y="1502.6" width="1054.4" height="847.2" fill="none" stroke="#000" stroke-width="2.2"/>
<line x1="1401.9" y1="1527.4" x2="1401.9" y2="1819.8" stroke="#000" stroke-width="2.6" />
<line x1="1388" y1="1528.5" x2="1401.9" y2="1528.5" stroke="#000" stroke-width="2.2" />
<line x1="1388" y1="1555.4" x2="1401.9" y2="1555.4" stroke="#000" stroke-width="2.2" />
<line x1="1388" y1="1608.4" x2="1401.9" y2="1608.4" stroke="#000" stroke-width="2.2" />
<line x1="1388" y1="1660.5" x2="1401.9" y2="1660.5" stroke="#000" stroke-width="2.2" />
<line x1="1388" y1="1713.9" x2="1401.9" y2="1713.9" stroke="#000" stroke-width="2.2" />
<line x1="1388" y1="1767" x2="1401.9" y2="1767" stroke="#000" stroke-width="2.2" />
<line x1="1388" y1="1818.7" x2="1401.9" y2="1818.7" stroke="#000" stroke-width="2.2" />
<text x="1373.6" y="1567.9" font-size="36" text-anchor="end" font-family="'Liberation Sans', Arial, Helvetica, sans-serif" stroke="#000" stroke-width="0.7" >0.4</text>
<text x="1373.6" y="1620.9" font-size="36" text-anchor="end" font-family="'Liberation Sans', Arial, Helvetica, sans-serif" stroke="#000" stroke-width="0.7" >0.2</text>
<text x="1373.6" y="1673" font-size="36" text-anchor="end" font-family="'Liberation Sans', Arial, Helvetica, sans-serif" stroke="#000" stroke-width="0.7" >0.0</text>
<text x="1373.6" y="1726.4" font-size="36" text-anchor="end" font-family="'Liberation Sans', Arial, Helvetica, sans-serif" stroke="#000" stroke-width="0.7" >-0.2</text>
<text x="1373.6" y="1779.5" font-size="36" text-anchor="end" font-family="'Liberation Sans', Arial, Helvetica, sans-serif" stroke="#000" stroke-width="0.7" >-0.4</text>
<line x1="1401.9" y1="2034.6" x2="1401.9" y2="2327" stroke="#000" stroke-width="2.6" />
<line x1="1388" y1="2035.7" x2="1401.9" y2="2035.7" stroke="#000" stroke-width="2.2" />
<line x1="1388" y1="2068.7" x2="1401.9" y2="2068.7" stroke="#000" stroke-width="2.2" />
<line x1="1388" y1="2140.9" x2="1401.9" y2="2140.9" stroke="#000" stroke-width="2.2" />
<line x1="1388" y1="2212.7" x2="1401.9" y2="2212.7" stroke="#000" stroke-width="2.2" />
<line x1="1388" y1="2285.5" x2="1401.9" y2="2285.5" stroke="#000" stroke-width="2.2" />
<line x1="1388" y1="2325.9" x2="1401.9" y2="2325.9" stroke="#000" stroke-width="2.2" />
<text x="1373.6" y="2081.2" font-size="36" text-anchor="end" font-family="'Liberation Sans', Arial, Helvetica, sans-serif" stroke="#000" stroke-width="0.7" >1.0</text>
<text x="1373.6" y="2153.4" font-size="36" text-anchor="end" font-family="'Liberation Sans', Arial, Helvetica, sans-serif" stroke="#000" stroke-width="0.7" >0.5</text>
<text x="1373.6" y="2225.2" font-size="36" text-anchor="end" font-family="'Liberation Sans', Arial, Helvetica, sans-serif" stroke="#000" stroke-width="0.7" >0.0</text>
<text x="1373.6" y="2298" font-size="36" text-anchor="end" font-family="'Liberation Sans', Arial, Helvetica, sans-serif" stroke="#000" stroke-width="0.7" >-0.5</text>
<text x="1436" y="2060.1" font-size="30.5" text-anchor="start" font-family="'Liberation Serif', 'Times New Roman', serif"  >H</text>
<text x="2404" y="2325.3" font-size="30.5" text-anchor="start" font-family="'Liberation Serif', 'Times New Roman', serif"  >L</text>
<line x1="1424.5" y1="2349.8" x2="1424.5" y2="2364.8" stroke="#000" stroke-width="2.2" />
<line x1="1585.4" y1="2349.8" x2="1585.4" y2="2364.8" stroke="#000" stroke-width="2.2" />
<line x1="1746.3" y1="2349.8" x2="1746.3" y2="2364.8" stroke="#000" stroke-width="2.2" />
<line x1="1907.3" y1="2349.8" x2="1907.3" y2="2364.8" stroke="#000" stroke-width="2.2" />
<line x1="2068.2" y1="2349.8" x2="2068.2" y2="2364.8" stroke="#000" stroke-width="2.2" />
<line x1="2229.1" y1="2349.8" x2="2229.1" y2="2364.8" stroke="#000" stroke-width="2.2" />
<line x1="2390" y1="2349.8" x2="2390" y2="2364.8" stroke="#000" stroke-width="2.2" />
<line x1="2434" y1="2349.8" x2="2434" y2="2364.8" stroke="#000" stroke-width="2.2" />
<text x="1424.5" y="2399" font-size="35.7" text-anchor="middle" font-family="'Liberation Sans', Arial, Helvetica, sans-serif" stroke="#000" stroke-width="0.7" >0</text>
<text x="1586.4" y="2399" font-size="35.7" text-anchor="middle" font-family="'Liberation Sans', Arial, Helvetica, sans-serif" stroke="#000" stroke-width="0.7" >2000</text>
<text x="1748.3" y="2399" font-size="35.7" text-anchor="middle" font-family="'Liberation Sans', Arial, Helvetica, sans-serif" stroke="#000" stroke-width="0.7" >4000</text>
<text x="1910.2" y="2399" font-size="35.7" text-anchor="middle" font-family="'Liberation Sans', Arial, Helvetica, sans-serif" stroke="#000" stroke-width="0.7" >6000</text>
<text x="2072" y="2399" font-size="35.7" text-anchor="middle" font-family="'Liberation Sans', Arial, Helvetica, sans-serif" stroke="#000" stroke-width="0.7" >8000</text>
<text x="2233.9" y="2399" font-size="35.7" text-anchor="middle" font-family="'Liberation Sans', Arial, Helvetica, sans-serif" stroke="#000" stroke-width="0.7" >10000</text>
<text x="2395.8" y="2399" font-size="35.7" text-anchor="middle" font-family="'Liberation Sans', Arial, Helvetica, sans-serif" stroke="#000" stroke-width="0.7" >12000</text>
<text x="1930.5" y="2436.9" font-size="36" text-anchor="middle" font-family="'Liberation Sans', Arial, Helvetica, sans-serif" stroke="#000" stroke-width="0.7" >Rank in Ordered DataSet</text>
<text x="1922.5" y="2480.6" font-size="36" text-anchor="middle" font-family="'Liberation Sans', Arial, Helvetica, sans-serif" stroke="#000" stroke-width="0.7" >CCL2 OF GSE96804</text>
<text x="0" y="0" font-size="36.3" text-anchor="middle" font-family="'Liberation Sans', Arial, Helvetica, sans-serif" stroke="#000" stroke-width="0.7" transform="translate(1303.2,1666.8) rotate(-90)">Enrichment score</text>
<text x="0" y="0" font-size="36.3" text-anchor="middle" font-family="'Liberation Sans', Arial, Helvetica, sans-serif" stroke="#000" stroke-width="0.7" transform="translate(1303.4,2179.7) rotate(-90)">Ranked list metric</text>
</svg>
</body></html>
